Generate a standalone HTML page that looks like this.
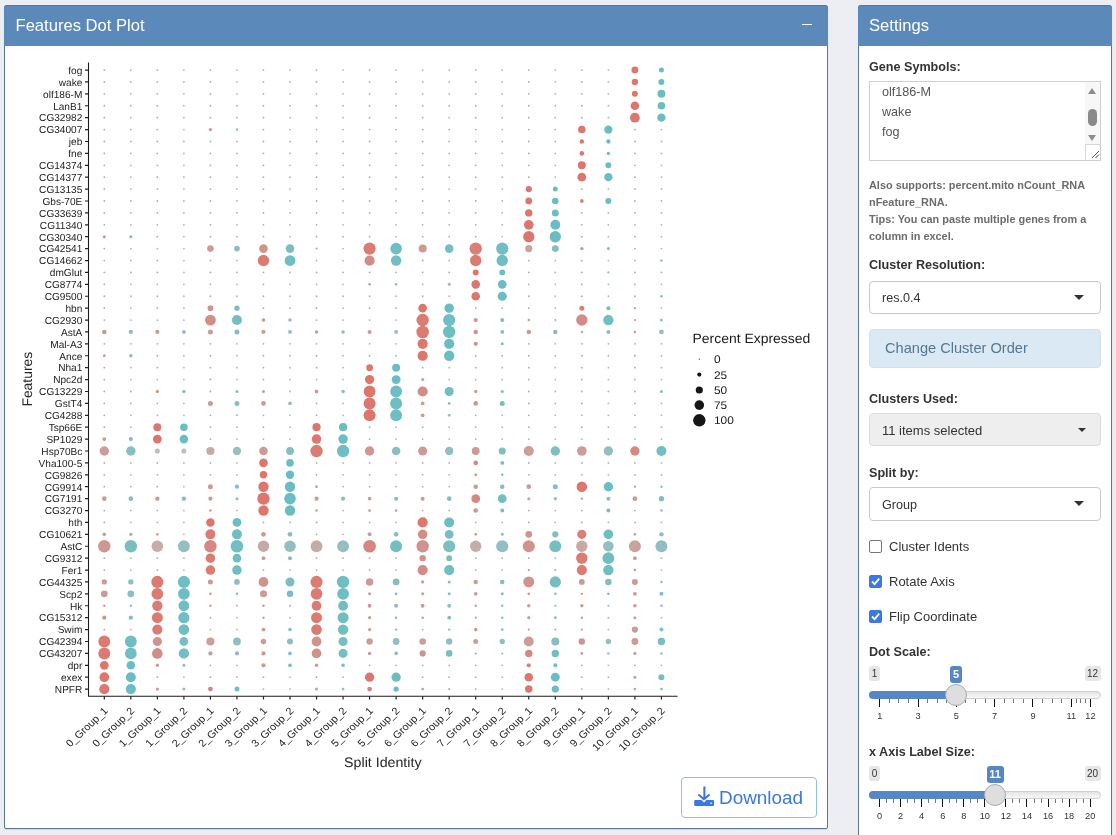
<!DOCTYPE html>
<html><head><meta charset="utf-8"><title>Features Dot Plot</title>
<style>
*{box-sizing:border-box}
html,body{margin:0;padding:0}
body{width:1116px;height:835px;overflow:hidden;background:#eceef3;position:relative;font-family:"Liberation Sans",Arial,sans-serif;color:#333}
.a{position:absolute;white-space:nowrap}
.box{position:absolute;background:#fff;border:1px solid #5a7896;border-radius:3px;box-shadow:0 1px 1px rgba(0,0,0,.1)}
.hd{position:absolute;background:#5b89ba;border-radius:3px 3px 0 0;color:#fff;border-top:1px solid #58789a}
.ttl{position:absolute;font-size:16.6px;line-height:17px;color:#fff;white-space:nowrap}
.lbl{position:absolute;left:869px;font-weight:bold;font-size:12.6px;line-height:13px;color:#333;white-space:nowrap}
.help{position:absolute;left:869px;font-weight:bold;font-size:10.9px;color:#6c6c6c;line-height:17px;white-space:nowrap}
.sel{position:absolute;left:869px;width:232px;border:1px solid #c8c8c8;border-radius:4px;background:#fff;font-size:12.6px;color:#333}
.sel .v{position:absolute;left:12px;top:50%;transform:translateY(-50%);white-space:nowrap}
.caret{position:absolute;width:0;height:0;border-style:solid;border-color:#333 transparent transparent transparent}
.btn{position:absolute;left:869px;width:232px;height:39px;background:#dbe9f4;border:1px solid #d0e2ef;border-radius:4px;color:#557790;font-size:14.6px}
.btn span{position:absolute;left:15px;top:10px;white-space:nowrap}
.cb{position:absolute;left:869px;width:13px;height:13px;border:1px solid #767676;border-radius:2px;background:#fff}
.cb.on{background:#3b78e0;border-color:#3b78e0}
.cbl{position:absolute;left:889px;font-size:13px;line-height:13px;color:#333;white-space:nowrap}
.mm{position:absolute;background:#e6e6e6;border-radius:3px;font-size:10px;padding-top:0.5px;color:#333;text-align:center}
.sg{position:absolute;background:#5587c6;border-radius:3px;font-size:11px;font-weight:bold;color:#fff;text-align:center}
.track{position:absolute;left:869px;width:232px;height:8px;border:1px solid #d0d0d0;border-radius:8px;background:linear-gradient(#e4e4e4,#f8f8f8)}
.bar{position:absolute;left:869px;height:8px;background:#5587c6;border-radius:8px 0 0 8px}
.handle{position:absolute;width:22px;height:22px;border-radius:50%;background:#dedede;border:1px solid #ababab}
.gt{position:absolute;font-size:9.2px;line-height:10px;color:#333;white-space:nowrap;text-align:center;width:20px}
.tk{position:absolute;width:1.3px;background:#111}
.dl{position:absolute;left:681px;top:777px;width:136px;height:41px;border:1px solid #8cc2dc;border-radius:4px;background:#fff;color:#3b78e0}
.dl span{position:absolute;left:37px;top:8.5px;font-size:18.9px;white-space:nowrap}
.dl svg{position:absolute;left:11px;top:7px}
#plot{position:absolute;left:0;top:0}
</style></head><body>
<div class="box" style="left:4px;top:5px;width:824px;height:824px;border-radius:3px 3px 2px 2px"></div>
<div class="hd" style="left:4px;top:5px;width:824px;height:41px"></div>
<div class="ttl" style="left:15.5px;top:17px">Features Dot Plot</div>
<div class="a" style="left:801.5px;top:23.6px;width:10.5px;height:1.7px;background:#f4f8fb"></div>
<div class="box" style="left:858px;top:5px;width:254px;height:850px"></div>
<div class="hd" style="left:858px;top:5px;width:254px;height:41px"></div>
<div class="ttl" style="left:869px;top:17px">Settings</div>

<div class="lbl" style="top:60.5px">Gene Symbols:</div>
<div class="a" style="left:869px;top:81px;width:232px;height:80px;border:1px solid #cfcfcf;background:#fff">
  <div class="a" style="left:12px;top:2.5px;font-size:12.6px;color:#555">olf186-M</div>
  <div class="a" style="left:12px;top:22.5px;font-size:12.6px;color:#555">wake</div>
  <div class="a" style="left:12px;top:42.5px;font-size:12.6px;color:#555">fog</div>
  <div class="a" style="right:0;top:0;width:15px;height:63px;background:#f7f7f7">
    <div class="a" style="left:3px;top:6px;width:0;height:0;border-left:4.5px solid transparent;border-right:4.5px solid transparent;border-bottom:6px solid #8c8c8c"></div>
    <div class="a" style="left:3px;top:27px;width:8.5px;height:17px;border-radius:4.5px;background:#8a8a8a"></div>
    <div class="a" style="left:3px;top:53px;width:0;height:0;border-left:4.5px solid transparent;border-right:4.5px solid transparent;border-top:6px solid #8c8c8c"></div>
  </div>
  <div class="a" style="right:0;bottom:0;width:15px;height:16px;border-left:1px solid #d8d8d8;border-top:1px solid #d8d8d8;background:#fff">
    <svg width="14" height="15" style="position:absolute;left:0;top:0"><path d="M6 13L13 6M9.5 13L13 9.5" stroke="#555" stroke-width="1"/></svg>
  </div>
</div>
<div class="help" style="top:177px">Also supports: percent.mito nCount_RNA<br>nFeature_RNA.<br>Tips: You can paste multiple genes from a<br>column in excel.</div>
<div class="lbl" style="top:259px">Cluster Resolution:</div>
<div class="sel" style="top:281px;height:33px"><span class="v">res.0.4</span><div class="caret" style="left:203.5px;top:12.5px;border-width:5px 5px 0 5px"></div></div>
<div class="btn" style="top:329px"><span>Change Cluster Order</span></div>
<div class="lbl" style="top:392.5px">Clusters Used:</div>
<div class="sel" style="top:413px;height:33px;background:#eeeeee;border-color:#dcdcdc"><span class="v" style="font-size:13px">11 items selected</span><div class="caret" style="left:208px;top:14px;border-width:4px 4px 0 4px"></div></div>
<div class="lbl" style="top:466.5px">Split by:</div>
<div class="sel" style="top:487px;height:34px"><span class="v" style="margin-top:1px">Group</span><div class="caret" style="left:203.5px;top:12.5px;border-width:5px 5px 0 5px"></div></div>
<div class="cb" style="top:540px"></div><div class="cbl" style="top:539.5px">Cluster Idents</div>
<div class="cb on" style="top:575px"><svg width="11" height="11" style="position:absolute;left:0;top:0"><path d="M2 5.5l2.6 2.6L9.2 2.6" fill="none" stroke="#fff" stroke-width="1.8"/></svg></div><div class="cbl" style="top:574.5px">Rotate Axis</div>
<div class="cb on" style="top:610px"><svg width="11" height="11" style="position:absolute;left:0;top:0"><path d="M2 5.5l2.6 2.6L9.2 2.6" fill="none" stroke="#fff" stroke-width="1.8"/></svg></div><div class="cbl" style="top:609.5px">Flip Coordinate</div>
<div class="lbl" style="top:645.5px">Dot Scale:</div>
<div class="mm" style="left:869px;top:666.3px;width:11px;height:14.5px;line-height:14.5px">1</div>
<div class="mm" style="left:1084.6px;top:666.3px;width:16px;height:14.5px;line-height:14.5px">12</div>
<div class="track" style="top:691.2px"></div>
<div class="bar" style="top:691.2px;width:87.3px"></div>
<div class="tk" style="left:889px;top:699.0px;height:4px;width:1px;background:#777"></div>
<div class="tk" style="left:898px;top:699.0px;height:4px;width:1px;background:#777"></div>
<div class="tk" style="left:908px;top:699.0px;height:4px;width:1px;background:#777"></div>
<div class="tk" style="left:927px;top:699.0px;height:4px;width:1px;background:#777"></div>
<div class="tk" style="left:937px;top:699.0px;height:4px;width:1px;background:#777"></div>
<div class="tk" style="left:946px;top:699.0px;height:4px;width:1px;background:#777"></div>
<div class="tk" style="left:965px;top:699.0px;height:4px;width:1px;background:#777"></div>
<div class="tk" style="left:975px;top:699.0px;height:4px;width:1px;background:#777"></div>
<div class="tk" style="left:985px;top:699.0px;height:4px;width:1px;background:#777"></div>
<div class="tk" style="left:1004px;top:699.0px;height:4px;width:1px;background:#777"></div>
<div class="tk" style="left:1013px;top:699.0px;height:4px;width:1px;background:#777"></div>
<div class="tk" style="left:1023px;top:699.0px;height:4px;width:1px;background:#777"></div>
<div class="tk" style="left:1042px;top:699.0px;height:4px;width:1px;background:#777"></div>
<div class="tk" style="left:1052px;top:699.0px;height:4px;width:1px;background:#777"></div>
<div class="tk" style="left:1061px;top:699.0px;height:4px;width:1px;background:#777"></div>
<div class="tk" style="left:1076px;top:699.0px;height:4px;width:1px;background:#777"></div>
<div class="tk" style="left:1080px;top:699.0px;height:4px;width:1px;background:#777"></div>
<div class="tk" style="left:1085px;top:699.0px;height:4px;width:1px;background:#777"></div>
<div class="tk" style="left:879px;top:699.0px;height:7.7px;width:1.4px"></div>
<div class="gt" style="left:869.70px;top:710.7px">1</div>
<div class="tk" style="left:918px;top:699.0px;height:7.7px;width:1.4px"></div>
<div class="gt" style="left:908.01px;top:710.7px">3</div>
<div class="tk" style="left:956px;top:699.0px;height:7.7px;width:1.4px"></div>
<div class="gt" style="left:946.32px;top:710.7px">5</div>
<div class="tk" style="left:994px;top:699.0px;height:7.7px;width:1.4px"></div>
<div class="gt" style="left:984.63px;top:710.7px">7</div>
<div class="tk" style="left:1032px;top:699.0px;height:7.7px;width:1.4px"></div>
<div class="gt" style="left:1022.94px;top:710.7px">9</div>
<div class="tk" style="left:1071px;top:699.0px;height:7.7px;width:1.4px"></div>
<div class="gt" style="left:1061.25px;top:710.7px">11</div>
<div class="tk" style="left:1090px;top:699.0px;height:7.7px;width:1.4px"></div>
<div class="gt" style="left:1080.40px;top:710.7px">12</div>
<div class="handle" style="left:945.3px;top:683.8px"></div>
<div class="sg" style="left:949.8px;top:666.3px;width:12.4px;height:16.3px;line-height:16.3px">5</div>
<div class="lbl" style="top:745.5px">x Axis Label Size:</div>
<div class="mm" style="left:869px;top:766.3px;width:11px;height:14.5px;line-height:14.5px">0</div>
<div class="mm" style="left:1084.6px;top:766.3px;width:16px;height:14.5px;line-height:14.5px">20</div>
<div class="track" style="top:791.2px"></div>
<div class="bar" style="top:791.2px;width:126.4px"></div>
<div class="tk" style="left:886px;top:799.0px;height:4px;width:1px;background:#777"></div>
<div class="tk" style="left:893px;top:799.0px;height:4px;width:1px;background:#777"></div>
<div class="tk" style="left:907px;top:799.0px;height:4px;width:1px;background:#777"></div>
<div class="tk" style="left:914px;top:799.0px;height:4px;width:1px;background:#777"></div>
<div class="tk" style="left:928px;top:799.0px;height:4px;width:1px;background:#777"></div>
<div class="tk" style="left:935px;top:799.0px;height:4px;width:1px;background:#777"></div>
<div class="tk" style="left:949px;top:799.0px;height:4px;width:1px;background:#777"></div>
<div class="tk" style="left:956px;top:799.0px;height:4px;width:1px;background:#777"></div>
<div class="tk" style="left:970px;top:799.0px;height:4px;width:1px;background:#777"></div>
<div class="tk" style="left:977px;top:799.0px;height:4px;width:1px;background:#777"></div>
<div class="tk" style="left:991px;top:799.0px;height:4px;width:1px;background:#777"></div>
<div class="tk" style="left:998px;top:799.0px;height:4px;width:1px;background:#777"></div>
<div class="tk" style="left:1012px;top:799.0px;height:4px;width:1px;background:#777"></div>
<div class="tk" style="left:1019px;top:799.0px;height:4px;width:1px;background:#777"></div>
<div class="tk" style="left:1034px;top:799.0px;height:4px;width:1px;background:#777"></div>
<div class="tk" style="left:1041px;top:799.0px;height:4px;width:1px;background:#777"></div>
<div class="tk" style="left:1055px;top:799.0px;height:4px;width:1px;background:#777"></div>
<div class="tk" style="left:1062px;top:799.0px;height:4px;width:1px;background:#777"></div>
<div class="tk" style="left:1076px;top:799.0px;height:4px;width:1px;background:#777"></div>
<div class="tk" style="left:1083px;top:799.0px;height:4px;width:1px;background:#777"></div>
<div class="tk" style="left:879px;top:799.0px;height:7.7px;width:1.4px"></div>
<div class="gt" style="left:869.50px;top:810.7px">0</div>
<div class="tk" style="left:900px;top:799.0px;height:7.7px;width:1.4px"></div>
<div class="gt" style="left:890.57px;top:810.7px">2</div>
<div class="tk" style="left:921px;top:799.0px;height:7.7px;width:1.4px"></div>
<div class="gt" style="left:911.64px;top:810.7px">4</div>
<div class="tk" style="left:942px;top:799.0px;height:7.7px;width:1.4px"></div>
<div class="gt" style="left:932.71px;top:810.7px">6</div>
<div class="tk" style="left:963px;top:799.0px;height:7.7px;width:1.4px"></div>
<div class="gt" style="left:953.78px;top:810.7px">8</div>
<div class="tk" style="left:984px;top:799.0px;height:7.7px;width:1.4px"></div>
<div class="gt" style="left:974.85px;top:810.7px">10</div>
<div class="tk" style="left:1005px;top:799.0px;height:7.7px;width:1.4px"></div>
<div class="gt" style="left:995.92px;top:810.7px">12</div>
<div class="tk" style="left:1026px;top:799.0px;height:7.7px;width:1.4px"></div>
<div class="gt" style="left:1016.99px;top:810.7px">14</div>
<div class="tk" style="left:1048px;top:799.0px;height:7.7px;width:1.4px"></div>
<div class="gt" style="left:1038.06px;top:810.7px">16</div>
<div class="tk" style="left:1069px;top:799.0px;height:7.7px;width:1.4px"></div>
<div class="gt" style="left:1059.13px;top:810.7px">18</div>
<div class="tk" style="left:1090px;top:799.0px;height:7.7px;width:1.4px"></div>
<div class="gt" style="left:1080.20px;top:810.7px">20</div>
<div class="handle" style="left:984.4px;top:783.8px"></div>
<div class="sg" style="left:986.6px;top:766.3px;width:17px;height:16.3px;line-height:16.3px">11</div>
<div class="dl"><svg width="22" height="22" viewBox="0 0 22 22"><path d="M11.4 2.2V13.5M6 10l4.9 4.3L16 10" fill="none" stroke="#3b78e6" stroke-width="2.1" stroke-linecap="round" stroke-linejoin="round"/><path d="M2.3 15.1H8.6L11 17.6 13.4 15.1H19.9A1.2 1.2 0 0 1 21.1 16.3V19.8A1.2 1.2 0 0 1 19.9 21H2.4A1.2 1.2 0 0 1 1.2 19.8V16.2A1.1 1.1 0 0 1 2.3 15.1Z" fill="#3b78e6"/><rect x="17.3" y="17.5" width="1.5" height="1.4" fill="#fff"/></svg><span>Download</span></div>
<svg id="plot" width="1116" height="835" viewBox="0 0 1116 835" style="text-rendering:geometricPrecision">
<g>
<circle cx="104.30" cy="70.05" r="0.9" fill="#b0aaaa"/>
<circle cx="130.83" cy="70.05" r="0.9" fill="#a6b8bb"/>
<circle cx="157.36" cy="70.05" r="0.9" fill="#b0aaaa"/>
<circle cx="183.89" cy="70.05" r="0.9" fill="#a6b8bb"/>
<circle cx="210.42" cy="70.05" r="0.9" fill="#b0aaaa"/>
<circle cx="236.95" cy="70.05" r="0.9" fill="#a6b8bb"/>
<circle cx="263.48" cy="70.05" r="0.9" fill="#b0aaaa"/>
<circle cx="290.01" cy="70.05" r="0.9" fill="#a6b8bb"/>
<circle cx="316.54" cy="70.05" r="0.9" fill="#b0aaaa"/>
<circle cx="343.07" cy="70.05" r="0.9" fill="#a6b8bb"/>
<circle cx="369.60" cy="70.05" r="0.9" fill="#b0aaaa"/>
<circle cx="396.13" cy="70.05" r="0.9" fill="#a6b8bb"/>
<circle cx="422.66" cy="70.05" r="0.9" fill="#b0aaaa"/>
<circle cx="449.19" cy="70.05" r="0.9" fill="#a6b8bb"/>
<circle cx="475.72" cy="70.05" r="0.9" fill="#b0aaaa"/>
<circle cx="502.25" cy="70.05" r="0.9" fill="#a6b8bb"/>
<circle cx="528.78" cy="70.05" r="0.9" fill="#b0aaaa"/>
<circle cx="555.31" cy="70.05" r="0.9" fill="#a6b8bb"/>
<circle cx="581.84" cy="70.05" r="0.9" fill="#b0aaaa"/>
<circle cx="608.37" cy="70.05" r="0.9" fill="#a6b8bb"/>
<circle cx="634.90" cy="70.05" r="3.45" fill="#dd776e"/>
<circle cx="661.43" cy="70.05" r="2.5" fill="#6abec3"/>
<circle cx="104.30" cy="81.95" r="0.9" fill="#b0aaaa"/>
<circle cx="130.83" cy="81.95" r="0.9" fill="#a6b8bb"/>
<circle cx="157.36" cy="81.95" r="0.9" fill="#b0aaaa"/>
<circle cx="183.89" cy="81.95" r="0.9" fill="#a6b8bb"/>
<circle cx="210.42" cy="81.95" r="0.9" fill="#b0aaaa"/>
<circle cx="236.95" cy="81.95" r="0.9" fill="#a6b8bb"/>
<circle cx="263.48" cy="81.95" r="0.9" fill="#b0aaaa"/>
<circle cx="290.01" cy="81.95" r="0.9" fill="#a6b8bb"/>
<circle cx="316.54" cy="81.95" r="0.9" fill="#b0aaaa"/>
<circle cx="343.07" cy="81.95" r="0.9" fill="#a6b8bb"/>
<circle cx="369.60" cy="81.95" r="0.9" fill="#b0aaaa"/>
<circle cx="396.13" cy="81.95" r="0.9" fill="#a6b8bb"/>
<circle cx="422.66" cy="81.95" r="0.9" fill="#b0aaaa"/>
<circle cx="449.19" cy="81.95" r="0.9" fill="#a6b8bb"/>
<circle cx="475.72" cy="81.95" r="0.9" fill="#b0aaaa"/>
<circle cx="502.25" cy="81.95" r="0.9" fill="#a6b8bb"/>
<circle cx="528.78" cy="81.95" r="0.9" fill="#b0aaaa"/>
<circle cx="555.31" cy="81.95" r="0.9" fill="#a6b8bb"/>
<circle cx="581.84" cy="81.95" r="0.9" fill="#b0aaaa"/>
<circle cx="608.37" cy="81.95" r="0.9" fill="#a6b8bb"/>
<circle cx="634.90" cy="81.95" r="3.2" fill="#dd776e"/>
<circle cx="661.43" cy="81.95" r="3.0" fill="#6abec3"/>
<circle cx="104.30" cy="93.86" r="0.9" fill="#b0aaaa"/>
<circle cx="130.83" cy="93.86" r="0.9" fill="#a6b8bb"/>
<circle cx="157.36" cy="93.86" r="0.9" fill="#b0aaaa"/>
<circle cx="183.89" cy="93.86" r="0.9" fill="#a6b8bb"/>
<circle cx="210.42" cy="93.86" r="0.9" fill="#b0aaaa"/>
<circle cx="236.95" cy="93.86" r="0.9" fill="#a6b8bb"/>
<circle cx="263.48" cy="93.86" r="0.9" fill="#b0aaaa"/>
<circle cx="290.01" cy="93.86" r="0.9" fill="#a6b8bb"/>
<circle cx="316.54" cy="93.86" r="0.9" fill="#b0aaaa"/>
<circle cx="343.07" cy="93.86" r="0.9" fill="#a6b8bb"/>
<circle cx="369.60" cy="93.86" r="0.9" fill="#b0aaaa"/>
<circle cx="396.13" cy="93.86" r="0.9" fill="#a6b8bb"/>
<circle cx="422.66" cy="93.86" r="0.9" fill="#b0aaaa"/>
<circle cx="449.19" cy="93.86" r="0.9" fill="#a6b8bb"/>
<circle cx="475.72" cy="93.86" r="0.9" fill="#b0aaaa"/>
<circle cx="502.25" cy="93.86" r="0.9" fill="#a6b8bb"/>
<circle cx="528.78" cy="93.86" r="0.9" fill="#b0aaaa"/>
<circle cx="555.31" cy="93.86" r="0.9" fill="#a6b8bb"/>
<circle cx="581.84" cy="93.86" r="0.9" fill="#b0aaaa"/>
<circle cx="608.37" cy="93.86" r="0.9" fill="#a6b8bb"/>
<circle cx="634.90" cy="93.86" r="3.0" fill="#dd776e"/>
<circle cx="661.43" cy="93.86" r="4.0" fill="#6abec3"/>
<circle cx="104.30" cy="105.76" r="0.9" fill="#b0aaaa"/>
<circle cx="130.83" cy="105.76" r="0.9" fill="#a6b8bb"/>
<circle cx="157.36" cy="105.76" r="0.9" fill="#b0aaaa"/>
<circle cx="183.89" cy="105.76" r="0.9" fill="#a6b8bb"/>
<circle cx="210.42" cy="105.76" r="0.9" fill="#b0aaaa"/>
<circle cx="236.95" cy="105.76" r="0.9" fill="#a6b8bb"/>
<circle cx="263.48" cy="105.76" r="0.9" fill="#b0aaaa"/>
<circle cx="290.01" cy="105.76" r="0.9" fill="#a6b8bb"/>
<circle cx="316.54" cy="105.76" r="0.9" fill="#b0aaaa"/>
<circle cx="343.07" cy="105.76" r="0.9" fill="#a6b8bb"/>
<circle cx="369.60" cy="105.76" r="0.9" fill="#b0aaaa"/>
<circle cx="396.13" cy="105.76" r="0.9" fill="#a6b8bb"/>
<circle cx="422.66" cy="105.76" r="0.9" fill="#b0aaaa"/>
<circle cx="449.19" cy="105.76" r="0.9" fill="#a6b8bb"/>
<circle cx="475.72" cy="105.76" r="0.9" fill="#b0aaaa"/>
<circle cx="502.25" cy="105.76" r="0.9" fill="#a6b8bb"/>
<circle cx="528.78" cy="105.76" r="0.9" fill="#b0aaaa"/>
<circle cx="555.31" cy="105.76" r="0.9" fill="#a6b8bb"/>
<circle cx="581.84" cy="105.76" r="0.9" fill="#b0aaaa"/>
<circle cx="608.37" cy="105.76" r="0.9" fill="#a6b8bb"/>
<circle cx="634.90" cy="105.76" r="4.3" fill="#dd776e"/>
<circle cx="661.43" cy="105.76" r="3.8" fill="#6abec3"/>
<circle cx="104.30" cy="117.67" r="0.9" fill="#b0aaaa"/>
<circle cx="130.83" cy="117.67" r="0.9" fill="#a6b8bb"/>
<circle cx="157.36" cy="117.67" r="0.9" fill="#b0aaaa"/>
<circle cx="183.89" cy="117.67" r="0.9" fill="#a6b8bb"/>
<circle cx="210.42" cy="117.67" r="0.9" fill="#b0aaaa"/>
<circle cx="236.95" cy="117.67" r="0.9" fill="#a6b8bb"/>
<circle cx="263.48" cy="117.67" r="0.9" fill="#b0aaaa"/>
<circle cx="290.01" cy="117.67" r="0.9" fill="#a6b8bb"/>
<circle cx="316.54" cy="117.67" r="0.9" fill="#b0aaaa"/>
<circle cx="343.07" cy="117.67" r="0.9" fill="#a6b8bb"/>
<circle cx="369.60" cy="117.67" r="0.9" fill="#b0aaaa"/>
<circle cx="396.13" cy="117.67" r="0.9" fill="#a6b8bb"/>
<circle cx="422.66" cy="117.67" r="0.9" fill="#b0aaaa"/>
<circle cx="449.19" cy="117.67" r="0.9" fill="#a6b8bb"/>
<circle cx="475.72" cy="117.67" r="0.9" fill="#b0aaaa"/>
<circle cx="502.25" cy="117.67" r="0.9" fill="#a6b8bb"/>
<circle cx="528.78" cy="117.67" r="0.9" fill="#b0aaaa"/>
<circle cx="555.31" cy="117.67" r="0.9" fill="#a6b8bb"/>
<circle cx="581.84" cy="117.67" r="0.9" fill="#b0aaaa"/>
<circle cx="608.37" cy="117.67" r="0.9" fill="#a6b8bb"/>
<circle cx="634.90" cy="117.67" r="4.9" fill="#dd776e"/>
<circle cx="661.43" cy="117.67" r="4.15" fill="#6abec3"/>
<circle cx="104.30" cy="129.57" r="0.9" fill="#b0aaaa"/>
<circle cx="130.83" cy="129.57" r="0.9" fill="#a6b8bb"/>
<circle cx="157.36" cy="129.57" r="0.9" fill="#b0aaaa"/>
<circle cx="183.89" cy="129.57" r="0.9" fill="#a6b8bb"/>
<circle cx="210.42" cy="129.57" r="1.6" fill="#d1938e"/>
<circle cx="236.95" cy="129.57" r="1.2" fill="#8cbec1"/>
<circle cx="263.48" cy="129.57" r="0.9" fill="#b0aaaa"/>
<circle cx="290.01" cy="129.57" r="0.9" fill="#a6b8bb"/>
<circle cx="316.54" cy="129.57" r="0.9" fill="#b0aaaa"/>
<circle cx="343.07" cy="129.57" r="0.9" fill="#a6b8bb"/>
<circle cx="369.60" cy="129.57" r="0.9" fill="#b0aaaa"/>
<circle cx="396.13" cy="129.57" r="0.9" fill="#a6b8bb"/>
<circle cx="422.66" cy="129.57" r="0.9" fill="#b0aaaa"/>
<circle cx="449.19" cy="129.57" r="0.9" fill="#a6b8bb"/>
<circle cx="475.72" cy="129.57" r="0.9" fill="#b0aaaa"/>
<circle cx="502.25" cy="129.57" r="0.9" fill="#a6b8bb"/>
<circle cx="528.78" cy="129.57" r="0.9" fill="#b0aaaa"/>
<circle cx="555.31" cy="129.57" r="0.9" fill="#a6b8bb"/>
<circle cx="581.84" cy="129.57" r="3.8" fill="#dd776e"/>
<circle cx="608.37" cy="129.57" r="4.15" fill="#6abec3"/>
<circle cx="634.90" cy="129.57" r="0.9" fill="#b0aaaa"/>
<circle cx="661.43" cy="129.57" r="0.9" fill="#a6b8bb"/>
<circle cx="104.30" cy="141.48" r="0.9" fill="#b0aaaa"/>
<circle cx="130.83" cy="141.48" r="0.9" fill="#a6b8bb"/>
<circle cx="157.36" cy="141.48" r="0.9" fill="#b0aaaa"/>
<circle cx="183.89" cy="141.48" r="0.9" fill="#a6b8bb"/>
<circle cx="210.42" cy="141.48" r="0.9" fill="#b0aaaa"/>
<circle cx="236.95" cy="141.48" r="0.9" fill="#a6b8bb"/>
<circle cx="263.48" cy="141.48" r="0.9" fill="#b0aaaa"/>
<circle cx="290.01" cy="141.48" r="0.9" fill="#a6b8bb"/>
<circle cx="316.54" cy="141.48" r="0.9" fill="#b0aaaa"/>
<circle cx="343.07" cy="141.48" r="0.9" fill="#a6b8bb"/>
<circle cx="369.60" cy="141.48" r="0.9" fill="#b0aaaa"/>
<circle cx="396.13" cy="141.48" r="0.9" fill="#a6b8bb"/>
<circle cx="422.66" cy="141.48" r="0.9" fill="#b0aaaa"/>
<circle cx="449.19" cy="141.48" r="0.9" fill="#a6b8bb"/>
<circle cx="475.72" cy="141.48" r="0.9" fill="#b0aaaa"/>
<circle cx="502.25" cy="141.48" r="0.9" fill="#a6b8bb"/>
<circle cx="528.78" cy="141.48" r="0.9" fill="#b0aaaa"/>
<circle cx="555.31" cy="141.48" r="0.9" fill="#a6b8bb"/>
<circle cx="581.84" cy="141.48" r="2.2" fill="#dd776e"/>
<circle cx="608.37" cy="141.48" r="2.15" fill="#6abec3"/>
<circle cx="634.90" cy="141.48" r="0.9" fill="#b0aaaa"/>
<circle cx="661.43" cy="141.48" r="0.9" fill="#a6b8bb"/>
<circle cx="104.30" cy="153.38" r="0.9" fill="#b0aaaa"/>
<circle cx="130.83" cy="153.38" r="0.9" fill="#a6b8bb"/>
<circle cx="157.36" cy="153.38" r="0.9" fill="#b0aaaa"/>
<circle cx="183.89" cy="153.38" r="0.9" fill="#a6b8bb"/>
<circle cx="210.42" cy="153.38" r="0.9" fill="#b0aaaa"/>
<circle cx="236.95" cy="153.38" r="0.9" fill="#a6b8bb"/>
<circle cx="263.48" cy="153.38" r="0.9" fill="#b0aaaa"/>
<circle cx="290.01" cy="153.38" r="0.9" fill="#a6b8bb"/>
<circle cx="316.54" cy="153.38" r="0.9" fill="#b0aaaa"/>
<circle cx="343.07" cy="153.38" r="0.9" fill="#a6b8bb"/>
<circle cx="369.60" cy="153.38" r="0.9" fill="#b0aaaa"/>
<circle cx="396.13" cy="153.38" r="0.9" fill="#a6b8bb"/>
<circle cx="422.66" cy="153.38" r="0.9" fill="#b0aaaa"/>
<circle cx="449.19" cy="153.38" r="0.9" fill="#a6b8bb"/>
<circle cx="475.72" cy="153.38" r="0.9" fill="#b0aaaa"/>
<circle cx="502.25" cy="153.38" r="0.9" fill="#a6b8bb"/>
<circle cx="528.78" cy="153.38" r="0.9" fill="#b0aaaa"/>
<circle cx="555.31" cy="153.38" r="0.9" fill="#a6b8bb"/>
<circle cx="581.84" cy="153.38" r="2.3" fill="#dd776e"/>
<circle cx="608.37" cy="153.38" r="1.65" fill="#6abec3"/>
<circle cx="634.90" cy="153.38" r="0.9" fill="#b0aaaa"/>
<circle cx="661.43" cy="153.38" r="0.9" fill="#a6b8bb"/>
<circle cx="104.30" cy="165.29" r="0.9" fill="#b0aaaa"/>
<circle cx="130.83" cy="165.29" r="0.9" fill="#a6b8bb"/>
<circle cx="157.36" cy="165.29" r="0.9" fill="#b0aaaa"/>
<circle cx="183.89" cy="165.29" r="0.9" fill="#a6b8bb"/>
<circle cx="210.42" cy="165.29" r="0.9" fill="#b0aaaa"/>
<circle cx="236.95" cy="165.29" r="0.9" fill="#a6b8bb"/>
<circle cx="263.48" cy="165.29" r="0.9" fill="#b0aaaa"/>
<circle cx="290.01" cy="165.29" r="0.9" fill="#a6b8bb"/>
<circle cx="316.54" cy="165.29" r="0.9" fill="#b0aaaa"/>
<circle cx="343.07" cy="165.29" r="0.9" fill="#a6b8bb"/>
<circle cx="369.60" cy="165.29" r="0.9" fill="#b0aaaa"/>
<circle cx="396.13" cy="165.29" r="0.9" fill="#a6b8bb"/>
<circle cx="422.66" cy="165.29" r="0.9" fill="#b0aaaa"/>
<circle cx="449.19" cy="165.29" r="0.9" fill="#a6b8bb"/>
<circle cx="475.72" cy="165.29" r="0.9" fill="#b0aaaa"/>
<circle cx="502.25" cy="165.29" r="0.9" fill="#a6b8bb"/>
<circle cx="528.78" cy="165.29" r="0.9" fill="#b0aaaa"/>
<circle cx="555.31" cy="165.29" r="0.9" fill="#a6b8bb"/>
<circle cx="581.84" cy="165.29" r="4.0" fill="#dd776e"/>
<circle cx="608.37" cy="165.29" r="3.0" fill="#6abec3"/>
<circle cx="634.90" cy="165.29" r="0.9" fill="#b0aaaa"/>
<circle cx="661.43" cy="165.29" r="0.9" fill="#a6b8bb"/>
<circle cx="104.30" cy="177.19" r="0.9" fill="#b0aaaa"/>
<circle cx="130.83" cy="177.19" r="0.9" fill="#a6b8bb"/>
<circle cx="157.36" cy="177.19" r="0.9" fill="#b0aaaa"/>
<circle cx="183.89" cy="177.19" r="0.9" fill="#a6b8bb"/>
<circle cx="210.42" cy="177.19" r="0.9" fill="#b0aaaa"/>
<circle cx="236.95" cy="177.19" r="0.9" fill="#a6b8bb"/>
<circle cx="263.48" cy="177.19" r="0.9" fill="#b0aaaa"/>
<circle cx="290.01" cy="177.19" r="0.9" fill="#a6b8bb"/>
<circle cx="316.54" cy="177.19" r="0.9" fill="#b0aaaa"/>
<circle cx="343.07" cy="177.19" r="0.9" fill="#a6b8bb"/>
<circle cx="369.60" cy="177.19" r="0.9" fill="#b0aaaa"/>
<circle cx="396.13" cy="177.19" r="0.9" fill="#a6b8bb"/>
<circle cx="422.66" cy="177.19" r="0.9" fill="#b0aaaa"/>
<circle cx="449.19" cy="177.19" r="0.9" fill="#a6b8bb"/>
<circle cx="475.72" cy="177.19" r="0.9" fill="#b0aaaa"/>
<circle cx="502.25" cy="177.19" r="0.9" fill="#a6b8bb"/>
<circle cx="528.78" cy="177.19" r="0.9" fill="#b0aaaa"/>
<circle cx="555.31" cy="177.19" r="0.9" fill="#a6b8bb"/>
<circle cx="581.84" cy="177.19" r="4.4" fill="#dd776e"/>
<circle cx="608.37" cy="177.19" r="4.15" fill="#6abec3"/>
<circle cx="634.90" cy="177.19" r="0.9" fill="#b0aaaa"/>
<circle cx="661.43" cy="177.19" r="0.9" fill="#a6b8bb"/>
<circle cx="104.30" cy="189.10" r="0.9" fill="#b0aaaa"/>
<circle cx="130.83" cy="189.10" r="0.9" fill="#a6b8bb"/>
<circle cx="157.36" cy="189.10" r="0.9" fill="#b0aaaa"/>
<circle cx="183.89" cy="189.10" r="0.9" fill="#a6b8bb"/>
<circle cx="210.42" cy="189.10" r="0.9" fill="#b0aaaa"/>
<circle cx="236.95" cy="189.10" r="0.9" fill="#a6b8bb"/>
<circle cx="263.48" cy="189.10" r="0.9" fill="#b0aaaa"/>
<circle cx="290.01" cy="189.10" r="0.9" fill="#a6b8bb"/>
<circle cx="316.54" cy="189.10" r="0.9" fill="#b0aaaa"/>
<circle cx="343.07" cy="189.10" r="0.9" fill="#a6b8bb"/>
<circle cx="369.60" cy="189.10" r="0.9" fill="#b0aaaa"/>
<circle cx="396.13" cy="189.10" r="0.9" fill="#a6b8bb"/>
<circle cx="422.66" cy="189.10" r="0.9" fill="#b0aaaa"/>
<circle cx="449.19" cy="189.10" r="0.9" fill="#a6b8bb"/>
<circle cx="475.72" cy="189.10" r="0.9" fill="#b0aaaa"/>
<circle cx="502.25" cy="189.10" r="0.9" fill="#a6b8bb"/>
<circle cx="528.78" cy="189.10" r="3.15" fill="#dd776e"/>
<circle cx="555.31" cy="189.10" r="2.5" fill="#6abec3"/>
<circle cx="581.84" cy="189.10" r="0.9" fill="#b0aaaa"/>
<circle cx="608.37" cy="189.10" r="0.9" fill="#a6b8bb"/>
<circle cx="634.90" cy="189.10" r="0.9" fill="#b0aaaa"/>
<circle cx="661.43" cy="189.10" r="0.9" fill="#a6b8bb"/>
<circle cx="104.30" cy="201.00" r="0.9" fill="#b0aaaa"/>
<circle cx="130.83" cy="201.00" r="0.9" fill="#a6b8bb"/>
<circle cx="157.36" cy="201.00" r="0.9" fill="#b0aaaa"/>
<circle cx="183.89" cy="201.00" r="0.9" fill="#a6b8bb"/>
<circle cx="210.42" cy="201.00" r="0.9" fill="#b0aaaa"/>
<circle cx="236.95" cy="201.00" r="0.9" fill="#a6b8bb"/>
<circle cx="263.48" cy="201.00" r="0.9" fill="#b0aaaa"/>
<circle cx="290.01" cy="201.00" r="0.9" fill="#a6b8bb"/>
<circle cx="316.54" cy="201.00" r="0.9" fill="#b0aaaa"/>
<circle cx="343.07" cy="201.00" r="0.9" fill="#a6b8bb"/>
<circle cx="369.60" cy="201.00" r="0.9" fill="#b0aaaa"/>
<circle cx="396.13" cy="201.00" r="0.9" fill="#a6b8bb"/>
<circle cx="422.66" cy="201.00" r="0.9" fill="#b0aaaa"/>
<circle cx="449.19" cy="201.00" r="0.9" fill="#a6b8bb"/>
<circle cx="475.72" cy="201.00" r="0.9" fill="#b0aaaa"/>
<circle cx="502.25" cy="201.00" r="0.9" fill="#a6b8bb"/>
<circle cx="528.78" cy="201.00" r="3.4" fill="#dd776e"/>
<circle cx="555.31" cy="201.00" r="3.3" fill="#6abec3"/>
<circle cx="581.84" cy="201.00" r="1.9" fill="#d7857e"/>
<circle cx="608.37" cy="201.00" r="3.0" fill="#6abec3"/>
<circle cx="634.90" cy="201.00" r="0.9" fill="#b0aaaa"/>
<circle cx="661.43" cy="201.00" r="0.9" fill="#a6b8bb"/>
<circle cx="104.30" cy="212.91" r="0.9" fill="#b0aaaa"/>
<circle cx="130.83" cy="212.91" r="0.9" fill="#a6b8bb"/>
<circle cx="157.36" cy="212.91" r="0.9" fill="#b0aaaa"/>
<circle cx="183.89" cy="212.91" r="0.9" fill="#a6b8bb"/>
<circle cx="210.42" cy="212.91" r="0.9" fill="#b0aaaa"/>
<circle cx="236.95" cy="212.91" r="0.9" fill="#a6b8bb"/>
<circle cx="263.48" cy="212.91" r="0.9" fill="#b0aaaa"/>
<circle cx="290.01" cy="212.91" r="0.9" fill="#a6b8bb"/>
<circle cx="316.54" cy="212.91" r="0.9" fill="#b0aaaa"/>
<circle cx="343.07" cy="212.91" r="0.9" fill="#a6b8bb"/>
<circle cx="369.60" cy="212.91" r="0.9" fill="#b0aaaa"/>
<circle cx="396.13" cy="212.91" r="0.9" fill="#a6b8bb"/>
<circle cx="422.66" cy="212.91" r="0.9" fill="#b0aaaa"/>
<circle cx="449.19" cy="212.91" r="0.9" fill="#a6b8bb"/>
<circle cx="475.72" cy="212.91" r="0.9" fill="#b0aaaa"/>
<circle cx="502.25" cy="212.91" r="0.9" fill="#a6b8bb"/>
<circle cx="528.78" cy="212.91" r="3.7" fill="#dd776e"/>
<circle cx="555.31" cy="212.91" r="3.5" fill="#6abec3"/>
<circle cx="581.84" cy="212.91" r="0.9" fill="#b0aaaa"/>
<circle cx="608.37" cy="212.91" r="0.9" fill="#a6b8bb"/>
<circle cx="634.90" cy="212.91" r="0.9" fill="#b0aaaa"/>
<circle cx="661.43" cy="212.91" r="0.9" fill="#a6b8bb"/>
<circle cx="104.30" cy="224.81" r="0.9" fill="#b0aaaa"/>
<circle cx="130.83" cy="224.81" r="0.9" fill="#a6b8bb"/>
<circle cx="157.36" cy="224.81" r="0.9" fill="#b0aaaa"/>
<circle cx="183.89" cy="224.81" r="0.9" fill="#a6b8bb"/>
<circle cx="210.42" cy="224.81" r="0.9" fill="#b0aaaa"/>
<circle cx="236.95" cy="224.81" r="0.9" fill="#a6b8bb"/>
<circle cx="263.48" cy="224.81" r="0.9" fill="#b0aaaa"/>
<circle cx="290.01" cy="224.81" r="0.9" fill="#a6b8bb"/>
<circle cx="316.54" cy="224.81" r="0.9" fill="#b0aaaa"/>
<circle cx="343.07" cy="224.81" r="0.9" fill="#a6b8bb"/>
<circle cx="369.60" cy="224.81" r="0.9" fill="#b0aaaa"/>
<circle cx="396.13" cy="224.81" r="0.9" fill="#a6b8bb"/>
<circle cx="422.66" cy="224.81" r="0.9" fill="#b0aaaa"/>
<circle cx="449.19" cy="224.81" r="0.9" fill="#a6b8bb"/>
<circle cx="475.72" cy="224.81" r="0.9" fill="#b0aaaa"/>
<circle cx="502.25" cy="224.81" r="0.9" fill="#a6b8bb"/>
<circle cx="528.78" cy="224.81" r="4.85" fill="#dd776e"/>
<circle cx="555.31" cy="224.81" r="4.95" fill="#6abec3"/>
<circle cx="581.84" cy="224.81" r="0.9" fill="#b0aaaa"/>
<circle cx="608.37" cy="224.81" r="0.9" fill="#a6b8bb"/>
<circle cx="634.90" cy="224.81" r="0.9" fill="#b0aaaa"/>
<circle cx="661.43" cy="224.81" r="0.9" fill="#a6b8bb"/>
<circle cx="104.30" cy="236.72" r="1.5" fill="#d1938e"/>
<circle cx="130.83" cy="236.72" r="1.5" fill="#7bbec2"/>
<circle cx="157.36" cy="236.72" r="0.9" fill="#b0aaaa"/>
<circle cx="183.89" cy="236.72" r="0.9" fill="#a6b8bb"/>
<circle cx="210.42" cy="236.72" r="0.9" fill="#b0aaaa"/>
<circle cx="236.95" cy="236.72" r="0.9" fill="#a6b8bb"/>
<circle cx="263.48" cy="236.72" r="0.9" fill="#b0aaaa"/>
<circle cx="290.01" cy="236.72" r="0.9" fill="#a6b8bb"/>
<circle cx="316.54" cy="236.72" r="0.9" fill="#b0aaaa"/>
<circle cx="343.07" cy="236.72" r="0.9" fill="#a6b8bb"/>
<circle cx="369.60" cy="236.72" r="0.9" fill="#b0aaaa"/>
<circle cx="396.13" cy="236.72" r="0.9" fill="#a6b8bb"/>
<circle cx="422.66" cy="236.72" r="0.9" fill="#b0aaaa"/>
<circle cx="449.19" cy="236.72" r="0.9" fill="#a6b8bb"/>
<circle cx="475.72" cy="236.72" r="0.9" fill="#b0aaaa"/>
<circle cx="502.25" cy="236.72" r="0.9" fill="#a6b8bb"/>
<circle cx="528.78" cy="236.72" r="5.65" fill="#dd776e"/>
<circle cx="555.31" cy="236.72" r="5.7" fill="#6abec3"/>
<circle cx="581.84" cy="236.72" r="0.9" fill="#b0aaaa"/>
<circle cx="608.37" cy="236.72" r="0.9" fill="#a6b8bb"/>
<circle cx="634.90" cy="236.72" r="0.9" fill="#b0aaaa"/>
<circle cx="661.43" cy="236.72" r="0.9" fill="#a6b8bb"/>
<circle cx="104.30" cy="248.62" r="0.9" fill="#b0aaaa"/>
<circle cx="130.83" cy="248.62" r="0.9" fill="#a6b8bb"/>
<circle cx="157.36" cy="248.62" r="0.9" fill="#b0aaaa"/>
<circle cx="183.89" cy="248.62" r="0.9" fill="#a6b8bb"/>
<circle cx="210.42" cy="248.62" r="3.3" fill="#ce9a96"/>
<circle cx="236.95" cy="248.62" r="2.85" fill="#8cbec1"/>
<circle cx="263.48" cy="248.62" r="4.3" fill="#d1938e"/>
<circle cx="290.01" cy="248.62" r="4.3" fill="#7bbec2"/>
<circle cx="316.54" cy="248.62" r="1.0" fill="#ce9a96"/>
<circle cx="343.07" cy="248.62" r="0.9" fill="#a6b8bb"/>
<circle cx="369.60" cy="248.62" r="6.1" fill="#db7b72"/>
<circle cx="396.13" cy="248.62" r="5.8" fill="#6ebec3"/>
<circle cx="422.66" cy="248.62" r="4.0" fill="#ce9a96"/>
<circle cx="449.19" cy="248.62" r="4.3" fill="#77bec2"/>
<circle cx="475.72" cy="248.62" r="6.2" fill="#da7e76"/>
<circle cx="502.25" cy="248.62" r="6.1" fill="#72bec2"/>
<circle cx="528.78" cy="248.62" r="3.6" fill="#caa29e"/>
<circle cx="555.31" cy="248.62" r="3.45" fill="#87bec1"/>
<circle cx="581.84" cy="248.62" r="1.7" fill="#d1938e"/>
<circle cx="608.37" cy="248.62" r="1.6" fill="#8cbec1"/>
<circle cx="634.90" cy="248.62" r="0.9" fill="#b0aaaa"/>
<circle cx="661.43" cy="248.62" r="0.9" fill="#a6b8bb"/>
<circle cx="104.30" cy="260.53" r="0.9" fill="#b0aaaa"/>
<circle cx="130.83" cy="260.53" r="0.9" fill="#a6b8bb"/>
<circle cx="157.36" cy="260.53" r="0.9" fill="#b0aaaa"/>
<circle cx="183.89" cy="260.53" r="0.9" fill="#a6b8bb"/>
<circle cx="210.42" cy="260.53" r="0.9" fill="#b0aaaa"/>
<circle cx="236.95" cy="260.53" r="0.9" fill="#a6b8bb"/>
<circle cx="263.48" cy="260.53" r="5.7" fill="#db7b72"/>
<circle cx="290.01" cy="260.53" r="5.4" fill="#6ebec3"/>
<circle cx="316.54" cy="260.53" r="0.9" fill="#b0aaaa"/>
<circle cx="343.07" cy="260.53" r="0.9" fill="#a6b8bb"/>
<circle cx="369.60" cy="260.53" r="5.1" fill="#d48c86"/>
<circle cx="396.13" cy="260.53" r="5.2" fill="#72bec2"/>
<circle cx="422.66" cy="260.53" r="1.0" fill="#ce9a96"/>
<circle cx="449.19" cy="260.53" r="0.9" fill="#a6b8bb"/>
<circle cx="475.72" cy="260.53" r="5.7" fill="#db7b72"/>
<circle cx="502.25" cy="260.53" r="5.7" fill="#6ebec3"/>
<circle cx="528.78" cy="260.53" r="0.9" fill="#b0aaaa"/>
<circle cx="555.31" cy="260.53" r="0.9" fill="#a6b8bb"/>
<circle cx="581.84" cy="260.53" r="0.9" fill="#b0aaaa"/>
<circle cx="608.37" cy="260.53" r="0.9" fill="#a6b8bb"/>
<circle cx="634.90" cy="260.53" r="0.9" fill="#b0aaaa"/>
<circle cx="661.43" cy="260.53" r="1.3" fill="#8cbec1"/>
<circle cx="104.30" cy="272.44" r="0.9" fill="#b0aaaa"/>
<circle cx="130.83" cy="272.44" r="0.9" fill="#a6b8bb"/>
<circle cx="157.36" cy="272.44" r="0.9" fill="#b0aaaa"/>
<circle cx="183.89" cy="272.44" r="0.9" fill="#a6b8bb"/>
<circle cx="210.42" cy="272.44" r="0.9" fill="#b0aaaa"/>
<circle cx="236.95" cy="272.44" r="0.9" fill="#a6b8bb"/>
<circle cx="263.48" cy="272.44" r="0.9" fill="#b0aaaa"/>
<circle cx="290.01" cy="272.44" r="0.9" fill="#a6b8bb"/>
<circle cx="316.54" cy="272.44" r="0.9" fill="#b0aaaa"/>
<circle cx="343.07" cy="272.44" r="0.9" fill="#a6b8bb"/>
<circle cx="369.60" cy="272.44" r="0.9" fill="#b0aaaa"/>
<circle cx="396.13" cy="272.44" r="0.9" fill="#a6b8bb"/>
<circle cx="422.66" cy="272.44" r="0.9" fill="#b0aaaa"/>
<circle cx="449.19" cy="272.44" r="0.9" fill="#a6b8bb"/>
<circle cx="475.72" cy="272.44" r="3.0" fill="#dd776e"/>
<circle cx="502.25" cy="272.44" r="2.85" fill="#6abec3"/>
<circle cx="528.78" cy="272.44" r="0.9" fill="#b0aaaa"/>
<circle cx="555.31" cy="272.44" r="0.9" fill="#a6b8bb"/>
<circle cx="581.84" cy="272.44" r="0.9" fill="#b0aaaa"/>
<circle cx="608.37" cy="272.44" r="1.1" fill="#8cbec1"/>
<circle cx="634.90" cy="272.44" r="0.9" fill="#b0aaaa"/>
<circle cx="661.43" cy="272.44" r="0.9" fill="#a6b8bb"/>
<circle cx="104.30" cy="284.34" r="0.9" fill="#b0aaaa"/>
<circle cx="130.83" cy="284.34" r="0.9" fill="#a6b8bb"/>
<circle cx="157.36" cy="284.34" r="0.9" fill="#b0aaaa"/>
<circle cx="183.89" cy="284.34" r="0.9" fill="#a6b8bb"/>
<circle cx="210.42" cy="284.34" r="0.9" fill="#b0aaaa"/>
<circle cx="236.95" cy="284.34" r="0.9" fill="#a6b8bb"/>
<circle cx="263.48" cy="284.34" r="0.9" fill="#b0aaaa"/>
<circle cx="290.01" cy="284.34" r="0.9" fill="#a6b8bb"/>
<circle cx="316.54" cy="284.34" r="0.9" fill="#b0aaaa"/>
<circle cx="343.07" cy="284.34" r="0.9" fill="#a6b8bb"/>
<circle cx="369.60" cy="284.34" r="1.3" fill="#ce9a96"/>
<circle cx="396.13" cy="284.34" r="1.3" fill="#8cbec1"/>
<circle cx="422.66" cy="284.34" r="0.9" fill="#b0aaaa"/>
<circle cx="449.19" cy="284.34" r="1.5" fill="#8cbec1"/>
<circle cx="475.72" cy="284.34" r="4.3" fill="#dd776e"/>
<circle cx="502.25" cy="284.34" r="4.3" fill="#6abec3"/>
<circle cx="528.78" cy="284.34" r="0.9" fill="#b0aaaa"/>
<circle cx="555.31" cy="284.34" r="0.9" fill="#a6b8bb"/>
<circle cx="581.84" cy="284.34" r="0.9" fill="#b0aaaa"/>
<circle cx="608.37" cy="284.34" r="0.9" fill="#a6b8bb"/>
<circle cx="634.90" cy="284.34" r="0.9" fill="#b0aaaa"/>
<circle cx="661.43" cy="284.34" r="0.9" fill="#a6b8bb"/>
<circle cx="104.30" cy="296.25" r="0.9" fill="#b0aaaa"/>
<circle cx="130.83" cy="296.25" r="0.9" fill="#a6b8bb"/>
<circle cx="157.36" cy="296.25" r="0.9" fill="#b0aaaa"/>
<circle cx="183.89" cy="296.25" r="0.9" fill="#a6b8bb"/>
<circle cx="210.42" cy="296.25" r="0.9" fill="#b0aaaa"/>
<circle cx="236.95" cy="296.25" r="0.9" fill="#a6b8bb"/>
<circle cx="263.48" cy="296.25" r="0.9" fill="#b0aaaa"/>
<circle cx="290.01" cy="296.25" r="0.9" fill="#a6b8bb"/>
<circle cx="316.54" cy="296.25" r="0.9" fill="#b0aaaa"/>
<circle cx="343.07" cy="296.25" r="0.9" fill="#a6b8bb"/>
<circle cx="369.60" cy="296.25" r="0.9" fill="#b0aaaa"/>
<circle cx="396.13" cy="296.25" r="0.9" fill="#a6b8bb"/>
<circle cx="422.66" cy="296.25" r="0.9" fill="#b0aaaa"/>
<circle cx="449.19" cy="296.25" r="0.9" fill="#a6b8bb"/>
<circle cx="475.72" cy="296.25" r="4.3" fill="#dd776e"/>
<circle cx="502.25" cy="296.25" r="4.55" fill="#6abec3"/>
<circle cx="528.78" cy="296.25" r="0.9" fill="#b0aaaa"/>
<circle cx="555.31" cy="296.25" r="0.9" fill="#a6b8bb"/>
<circle cx="581.84" cy="296.25" r="0.9" fill="#b0aaaa"/>
<circle cx="608.37" cy="296.25" r="0.9" fill="#a6b8bb"/>
<circle cx="634.90" cy="296.25" r="0.9" fill="#b0aaaa"/>
<circle cx="661.43" cy="296.25" r="1.3" fill="#8cbec1"/>
<circle cx="104.30" cy="308.15" r="0.9" fill="#b0aaaa"/>
<circle cx="130.83" cy="308.15" r="0.9" fill="#a6b8bb"/>
<circle cx="157.36" cy="308.15" r="0.9" fill="#b0aaaa"/>
<circle cx="183.89" cy="308.15" r="0.9" fill="#a6b8bb"/>
<circle cx="210.42" cy="308.15" r="2.85" fill="#d1938e"/>
<circle cx="236.95" cy="308.15" r="2.65" fill="#7bbec2"/>
<circle cx="263.48" cy="308.15" r="0.9" fill="#b0aaaa"/>
<circle cx="290.01" cy="308.15" r="0.9" fill="#a6b8bb"/>
<circle cx="316.54" cy="308.15" r="0.9" fill="#b0aaaa"/>
<circle cx="343.07" cy="308.15" r="0.9" fill="#a6b8bb"/>
<circle cx="369.60" cy="308.15" r="0.9" fill="#b0aaaa"/>
<circle cx="396.13" cy="308.15" r="0.9" fill="#a6b8bb"/>
<circle cx="422.66" cy="308.15" r="4.3" fill="#dd776e"/>
<circle cx="449.19" cy="308.15" r="4.75" fill="#6abec3"/>
<circle cx="475.72" cy="308.15" r="0.9" fill="#b0aaaa"/>
<circle cx="502.25" cy="308.15" r="0.9" fill="#a6b8bb"/>
<circle cx="528.78" cy="308.15" r="0.9" fill="#b0aaaa"/>
<circle cx="555.31" cy="308.15" r="0.9" fill="#a6b8bb"/>
<circle cx="581.84" cy="308.15" r="2.5" fill="#da7e76"/>
<circle cx="608.37" cy="308.15" r="2.0" fill="#72bec2"/>
<circle cx="634.90" cy="308.15" r="1.1" fill="#ce9a96"/>
<circle cx="661.43" cy="308.15" r="0.9" fill="#a6b8bb"/>
<circle cx="104.30" cy="320.06" r="0.9" fill="#b0aaaa"/>
<circle cx="130.83" cy="320.06" r="0.9" fill="#a6b8bb"/>
<circle cx="157.36" cy="320.06" r="0.9" fill="#b0aaaa"/>
<circle cx="183.89" cy="320.06" r="0.9" fill="#a6b8bb"/>
<circle cx="210.42" cy="320.06" r="5.4" fill="#d48c86"/>
<circle cx="236.95" cy="320.06" r="5.0" fill="#77bec2"/>
<circle cx="263.48" cy="320.06" r="1.8" fill="#d1938e"/>
<circle cx="290.01" cy="320.06" r="1.8" fill="#8cbec1"/>
<circle cx="316.54" cy="320.06" r="0.9" fill="#b0aaaa"/>
<circle cx="343.07" cy="320.06" r="0.9" fill="#a6b8bb"/>
<circle cx="369.60" cy="320.06" r="0.9" fill="#b0aaaa"/>
<circle cx="396.13" cy="320.06" r="0.9" fill="#a6b8bb"/>
<circle cx="422.66" cy="320.06" r="6.2" fill="#db7b72"/>
<circle cx="449.19" cy="320.06" r="6.1" fill="#6ebec3"/>
<circle cx="475.72" cy="320.06" r="2.1" fill="#d1938e"/>
<circle cx="502.25" cy="320.06" r="2.1" fill="#8cbec1"/>
<circle cx="528.78" cy="320.06" r="1.3" fill="#ce9a96"/>
<circle cx="555.31" cy="320.06" r="1.1" fill="#8cbec1"/>
<circle cx="581.84" cy="320.06" r="5.7" fill="#d48c86"/>
<circle cx="608.37" cy="320.06" r="5.2" fill="#72bec2"/>
<circle cx="634.90" cy="320.06" r="1.1" fill="#ce9a96"/>
<circle cx="661.43" cy="320.06" r="1.4" fill="#8cbec1"/>
<circle cx="104.30" cy="331.96" r="2.3" fill="#ce9a96"/>
<circle cx="130.83" cy="331.96" r="2.1" fill="#8cbec1"/>
<circle cx="157.36" cy="331.96" r="2.1" fill="#ce9a96"/>
<circle cx="183.89" cy="331.96" r="1.9" fill="#8cbec1"/>
<circle cx="210.42" cy="331.96" r="2.5" fill="#ce9a96"/>
<circle cx="236.95" cy="331.96" r="2.5" fill="#83bec2"/>
<circle cx="263.48" cy="331.96" r="2.1" fill="#ce9a96"/>
<circle cx="290.01" cy="331.96" r="1.9" fill="#83bec2"/>
<circle cx="316.54" cy="331.96" r="1.8" fill="#ce9a96"/>
<circle cx="343.07" cy="331.96" r="1.8" fill="#8cbec1"/>
<circle cx="369.60" cy="331.96" r="2.0" fill="#ce9a96"/>
<circle cx="396.13" cy="331.96" r="1.9" fill="#8cbec1"/>
<circle cx="422.66" cy="331.96" r="6.3" fill="#db7b72"/>
<circle cx="449.19" cy="331.96" r="6.2" fill="#6ebec3"/>
<circle cx="475.72" cy="331.96" r="2.3" fill="#d1938e"/>
<circle cx="502.25" cy="331.96" r="1.9" fill="#83bec2"/>
<circle cx="528.78" cy="331.96" r="2.3" fill="#ce9a96"/>
<circle cx="555.31" cy="331.96" r="2.2" fill="#83bec2"/>
<circle cx="581.84" cy="331.96" r="1.2" fill="#ce9a96"/>
<circle cx="608.37" cy="331.96" r="2.0" fill="#8cbec1"/>
<circle cx="634.90" cy="331.96" r="1.3" fill="#ce9a96"/>
<circle cx="661.43" cy="331.96" r="2.35" fill="#94bec0"/>
<circle cx="104.30" cy="343.87" r="0.9" fill="#b0aaaa"/>
<circle cx="130.83" cy="343.87" r="0.9" fill="#a6b8bb"/>
<circle cx="157.36" cy="343.87" r="0.9" fill="#b0aaaa"/>
<circle cx="183.89" cy="343.87" r="0.9" fill="#a6b8bb"/>
<circle cx="210.42" cy="343.87" r="0.9" fill="#b0aaaa"/>
<circle cx="236.95" cy="343.87" r="0.9" fill="#a6b8bb"/>
<circle cx="263.48" cy="343.87" r="0.9" fill="#b0aaaa"/>
<circle cx="290.01" cy="343.87" r="0.9" fill="#a6b8bb"/>
<circle cx="316.54" cy="343.87" r="0.9" fill="#b0aaaa"/>
<circle cx="343.07" cy="343.87" r="0.9" fill="#a6b8bb"/>
<circle cx="369.60" cy="343.87" r="0.9" fill="#b0aaaa"/>
<circle cx="396.13" cy="343.87" r="0.9" fill="#a6b8bb"/>
<circle cx="422.66" cy="343.87" r="5.1" fill="#dd776e"/>
<circle cx="449.19" cy="343.87" r="5.1" fill="#6abec3"/>
<circle cx="475.72" cy="343.87" r="2.1" fill="#d1938e"/>
<circle cx="502.25" cy="343.87" r="1.5" fill="#83bec2"/>
<circle cx="528.78" cy="343.87" r="0.9" fill="#b0aaaa"/>
<circle cx="555.31" cy="343.87" r="0.9" fill="#a6b8bb"/>
<circle cx="581.84" cy="343.87" r="0.9" fill="#b0aaaa"/>
<circle cx="608.37" cy="343.87" r="0.9" fill="#a6b8bb"/>
<circle cx="634.90" cy="343.87" r="0.9" fill="#b0aaaa"/>
<circle cx="661.43" cy="343.87" r="0.9" fill="#a6b8bb"/>
<circle cx="104.30" cy="355.77" r="1.4" fill="#ce9a96"/>
<circle cx="130.83" cy="355.77" r="1.7" fill="#83bec2"/>
<circle cx="157.36" cy="355.77" r="0.9" fill="#b0aaaa"/>
<circle cx="183.89" cy="355.77" r="0.9" fill="#a6b8bb"/>
<circle cx="210.42" cy="355.77" r="0.9" fill="#b0aaaa"/>
<circle cx="236.95" cy="355.77" r="0.9" fill="#a6b8bb"/>
<circle cx="263.48" cy="355.77" r="0.9" fill="#b0aaaa"/>
<circle cx="290.01" cy="355.77" r="0.9" fill="#a6b8bb"/>
<circle cx="316.54" cy="355.77" r="0.9" fill="#b0aaaa"/>
<circle cx="343.07" cy="355.77" r="0.9" fill="#a6b8bb"/>
<circle cx="369.60" cy="355.77" r="0.9" fill="#b0aaaa"/>
<circle cx="396.13" cy="355.77" r="0.9" fill="#a6b8bb"/>
<circle cx="422.66" cy="355.77" r="5.1" fill="#dd776e"/>
<circle cx="449.19" cy="355.77" r="5.2" fill="#6abec3"/>
<circle cx="475.72" cy="355.77" r="0.9" fill="#b0aaaa"/>
<circle cx="502.25" cy="355.77" r="0.9" fill="#a6b8bb"/>
<circle cx="528.78" cy="355.77" r="0.9" fill="#b0aaaa"/>
<circle cx="555.31" cy="355.77" r="0.9" fill="#a6b8bb"/>
<circle cx="581.84" cy="355.77" r="0.9" fill="#b0aaaa"/>
<circle cx="608.37" cy="355.77" r="0.9" fill="#a6b8bb"/>
<circle cx="634.90" cy="355.77" r="1.0" fill="#ce9a96"/>
<circle cx="661.43" cy="355.77" r="0.9" fill="#a6b8bb"/>
<circle cx="104.30" cy="367.68" r="0.9" fill="#b0aaaa"/>
<circle cx="130.83" cy="367.68" r="0.9" fill="#a6b8bb"/>
<circle cx="157.36" cy="367.68" r="0.9" fill="#b0aaaa"/>
<circle cx="183.89" cy="367.68" r="0.9" fill="#a6b8bb"/>
<circle cx="210.42" cy="367.68" r="0.9" fill="#b0aaaa"/>
<circle cx="236.95" cy="367.68" r="0.9" fill="#a6b8bb"/>
<circle cx="263.48" cy="367.68" r="0.9" fill="#b0aaaa"/>
<circle cx="290.01" cy="367.68" r="0.9" fill="#a6b8bb"/>
<circle cx="316.54" cy="367.68" r="0.9" fill="#b0aaaa"/>
<circle cx="343.07" cy="367.68" r="0.9" fill="#a6b8bb"/>
<circle cx="369.60" cy="367.68" r="3.4" fill="#dd776e"/>
<circle cx="396.13" cy="367.68" r="4.0" fill="#6abec3"/>
<circle cx="422.66" cy="367.68" r="0.9" fill="#b0aaaa"/>
<circle cx="449.19" cy="367.68" r="0.9" fill="#a6b8bb"/>
<circle cx="475.72" cy="367.68" r="0.9" fill="#b0aaaa"/>
<circle cx="502.25" cy="367.68" r="0.9" fill="#a6b8bb"/>
<circle cx="528.78" cy="367.68" r="0.9" fill="#b0aaaa"/>
<circle cx="555.31" cy="367.68" r="0.9" fill="#a6b8bb"/>
<circle cx="581.84" cy="367.68" r="0.9" fill="#b0aaaa"/>
<circle cx="608.37" cy="367.68" r="0.9" fill="#a6b8bb"/>
<circle cx="634.90" cy="367.68" r="0.9" fill="#b0aaaa"/>
<circle cx="661.43" cy="367.68" r="0.9" fill="#a6b8bb"/>
<circle cx="104.30" cy="379.58" r="0.9" fill="#b0aaaa"/>
<circle cx="130.83" cy="379.58" r="0.9" fill="#a6b8bb"/>
<circle cx="157.36" cy="379.58" r="0.9" fill="#b0aaaa"/>
<circle cx="183.89" cy="379.58" r="0.9" fill="#a6b8bb"/>
<circle cx="210.42" cy="379.58" r="1.0" fill="#ce9a96"/>
<circle cx="236.95" cy="379.58" r="0.9" fill="#a6b8bb"/>
<circle cx="263.48" cy="379.58" r="0.9" fill="#b0aaaa"/>
<circle cx="290.01" cy="379.58" r="0.9" fill="#a6b8bb"/>
<circle cx="316.54" cy="379.58" r="0.9" fill="#b0aaaa"/>
<circle cx="343.07" cy="379.58" r="0.9" fill="#a6b8bb"/>
<circle cx="369.60" cy="379.58" r="4.65" fill="#dd776e"/>
<circle cx="396.13" cy="379.58" r="4.45" fill="#6abec3"/>
<circle cx="422.66" cy="379.58" r="1.5" fill="#ce9a96"/>
<circle cx="449.19" cy="379.58" r="0.9" fill="#a6b8bb"/>
<circle cx="475.72" cy="379.58" r="0.9" fill="#b0aaaa"/>
<circle cx="502.25" cy="379.58" r="0.9" fill="#a6b8bb"/>
<circle cx="528.78" cy="379.58" r="0.9" fill="#b0aaaa"/>
<circle cx="555.31" cy="379.58" r="0.9" fill="#a6b8bb"/>
<circle cx="581.84" cy="379.58" r="0.9" fill="#b0aaaa"/>
<circle cx="608.37" cy="379.58" r="0.9" fill="#a6b8bb"/>
<circle cx="634.90" cy="379.58" r="0.9" fill="#b0aaaa"/>
<circle cx="661.43" cy="379.58" r="0.9" fill="#a6b8bb"/>
<circle cx="104.30" cy="391.49" r="0.9" fill="#b0aaaa"/>
<circle cx="130.83" cy="391.49" r="0.9" fill="#a6b8bb"/>
<circle cx="157.36" cy="391.49" r="1.7" fill="#ce9a96"/>
<circle cx="183.89" cy="391.49" r="1.7" fill="#8cbec1"/>
<circle cx="210.42" cy="391.49" r="0.9" fill="#b0aaaa"/>
<circle cx="236.95" cy="391.49" r="1.5" fill="#8cbec1"/>
<circle cx="263.48" cy="391.49" r="1.5" fill="#ce9a96"/>
<circle cx="290.01" cy="391.49" r="0.9" fill="#a6b8bb"/>
<circle cx="316.54" cy="391.49" r="1.9" fill="#ce9a96"/>
<circle cx="343.07" cy="391.49" r="1.8" fill="#8cbec1"/>
<circle cx="369.60" cy="391.49" r="5.9" fill="#dd776e"/>
<circle cx="396.13" cy="391.49" r="5.9" fill="#6ebec3"/>
<circle cx="422.66" cy="391.49" r="5.1" fill="#d48c86"/>
<circle cx="449.19" cy="391.49" r="4.55" fill="#72bec2"/>
<circle cx="475.72" cy="391.49" r="1.7" fill="#ce9a96"/>
<circle cx="502.25" cy="391.49" r="1.6" fill="#83bec2"/>
<circle cx="528.78" cy="391.49" r="0.9" fill="#b0aaaa"/>
<circle cx="555.31" cy="391.49" r="0.9" fill="#a6b8bb"/>
<circle cx="581.84" cy="391.49" r="0.9" fill="#b0aaaa"/>
<circle cx="608.37" cy="391.49" r="0.9" fill="#a6b8bb"/>
<circle cx="634.90" cy="391.49" r="0.9" fill="#b0aaaa"/>
<circle cx="661.43" cy="391.49" r="1.5" fill="#8cbec1"/>
<circle cx="104.30" cy="403.39" r="0.9" fill="#b0aaaa"/>
<circle cx="130.83" cy="403.39" r="0.9" fill="#a6b8bb"/>
<circle cx="157.36" cy="403.39" r="0.9" fill="#b0aaaa"/>
<circle cx="183.89" cy="403.39" r="0.9" fill="#a6b8bb"/>
<circle cx="210.42" cy="403.39" r="2.5" fill="#ce9a96"/>
<circle cx="236.95" cy="403.39" r="2.5" fill="#83bec2"/>
<circle cx="263.48" cy="403.39" r="2.4" fill="#ce9a96"/>
<circle cx="290.01" cy="403.39" r="1.8" fill="#83bec2"/>
<circle cx="316.54" cy="403.39" r="0.9" fill="#b0aaaa"/>
<circle cx="343.07" cy="403.39" r="0.9" fill="#a6b8bb"/>
<circle cx="369.60" cy="403.39" r="6.0" fill="#dd776e"/>
<circle cx="396.13" cy="403.39" r="6.0" fill="#6ebec3"/>
<circle cx="422.66" cy="403.39" r="1.9" fill="#ce9a96"/>
<circle cx="449.19" cy="403.39" r="1.4" fill="#8cbec1"/>
<circle cx="475.72" cy="403.39" r="2.3" fill="#d1938e"/>
<circle cx="502.25" cy="403.39" r="2.5" fill="#7bbec2"/>
<circle cx="528.78" cy="403.39" r="0.9" fill="#b0aaaa"/>
<circle cx="555.31" cy="403.39" r="0.9" fill="#a6b8bb"/>
<circle cx="581.84" cy="403.39" r="0.9" fill="#b0aaaa"/>
<circle cx="608.37" cy="403.39" r="0.9" fill="#a6b8bb"/>
<circle cx="634.90" cy="403.39" r="0.9" fill="#b0aaaa"/>
<circle cx="661.43" cy="403.39" r="0.9" fill="#a6b8bb"/>
<circle cx="104.30" cy="415.30" r="0.9" fill="#b0aaaa"/>
<circle cx="130.83" cy="415.30" r="0.9" fill="#a6b8bb"/>
<circle cx="157.36" cy="415.30" r="0.9" fill="#b0aaaa"/>
<circle cx="183.89" cy="415.30" r="0.9" fill="#a6b8bb"/>
<circle cx="210.42" cy="415.30" r="0.9" fill="#b0aaaa"/>
<circle cx="236.95" cy="415.30" r="1.0" fill="#8cbec1"/>
<circle cx="263.48" cy="415.30" r="0.9" fill="#b0aaaa"/>
<circle cx="290.01" cy="415.30" r="0.9" fill="#a6b8bb"/>
<circle cx="316.54" cy="415.30" r="0.9" fill="#b0aaaa"/>
<circle cx="343.07" cy="415.30" r="0.9" fill="#a6b8bb"/>
<circle cx="369.60" cy="415.30" r="6.0" fill="#dd776e"/>
<circle cx="396.13" cy="415.30" r="6.0" fill="#6ebec3"/>
<circle cx="422.66" cy="415.30" r="1.9" fill="#ce9a96"/>
<circle cx="449.19" cy="415.30" r="1.4" fill="#8cbec1"/>
<circle cx="475.72" cy="415.30" r="0.9" fill="#b0aaaa"/>
<circle cx="502.25" cy="415.30" r="0.9" fill="#a6b8bb"/>
<circle cx="528.78" cy="415.30" r="0.9" fill="#b0aaaa"/>
<circle cx="555.31" cy="415.30" r="0.9" fill="#a6b8bb"/>
<circle cx="581.84" cy="415.30" r="0.9" fill="#b0aaaa"/>
<circle cx="608.37" cy="415.30" r="0.9" fill="#a6b8bb"/>
<circle cx="634.90" cy="415.30" r="0.9" fill="#b0aaaa"/>
<circle cx="661.43" cy="415.30" r="0.9" fill="#a6b8bb"/>
<circle cx="104.30" cy="427.20" r="0.9" fill="#b0aaaa"/>
<circle cx="130.83" cy="427.20" r="0.9" fill="#a6b8bb"/>
<circle cx="157.36" cy="427.20" r="4.0" fill="#dd776e"/>
<circle cx="183.89" cy="427.20" r="3.8" fill="#6abec3"/>
<circle cx="210.42" cy="427.20" r="0.9" fill="#b0aaaa"/>
<circle cx="236.95" cy="427.20" r="0.9" fill="#a6b8bb"/>
<circle cx="263.48" cy="427.20" r="0.9" fill="#b0aaaa"/>
<circle cx="290.01" cy="427.20" r="0.9" fill="#a6b8bb"/>
<circle cx="316.54" cy="427.20" r="4.1" fill="#dd776e"/>
<circle cx="343.07" cy="427.20" r="4.1" fill="#6abec3"/>
<circle cx="369.60" cy="427.20" r="0.9" fill="#b0aaaa"/>
<circle cx="396.13" cy="427.20" r="0.9" fill="#a6b8bb"/>
<circle cx="422.66" cy="427.20" r="0.9" fill="#b0aaaa"/>
<circle cx="449.19" cy="427.20" r="0.9" fill="#a6b8bb"/>
<circle cx="475.72" cy="427.20" r="0.9" fill="#b0aaaa"/>
<circle cx="502.25" cy="427.20" r="0.9" fill="#a6b8bb"/>
<circle cx="528.78" cy="427.20" r="0.9" fill="#b0aaaa"/>
<circle cx="555.31" cy="427.20" r="0.9" fill="#a6b8bb"/>
<circle cx="581.84" cy="427.20" r="0.9" fill="#b0aaaa"/>
<circle cx="608.37" cy="427.20" r="0.9" fill="#a6b8bb"/>
<circle cx="634.90" cy="427.20" r="0.9" fill="#b0aaaa"/>
<circle cx="661.43" cy="427.20" r="0.9" fill="#a6b8bb"/>
<circle cx="104.30" cy="439.11" r="1.9" fill="#d1938e"/>
<circle cx="130.83" cy="439.11" r="2.1" fill="#83bec2"/>
<circle cx="157.36" cy="439.11" r="4.4" fill="#dd776e"/>
<circle cx="183.89" cy="439.11" r="4.3" fill="#6abec3"/>
<circle cx="210.42" cy="439.11" r="0.9" fill="#b0aaaa"/>
<circle cx="236.95" cy="439.11" r="0.9" fill="#a6b8bb"/>
<circle cx="263.48" cy="439.11" r="0.9" fill="#b0aaaa"/>
<circle cx="290.01" cy="439.11" r="0.9" fill="#a6b8bb"/>
<circle cx="316.54" cy="439.11" r="4.75" fill="#dd776e"/>
<circle cx="343.07" cy="439.11" r="4.75" fill="#6abec3"/>
<circle cx="369.60" cy="439.11" r="0.9" fill="#b0aaaa"/>
<circle cx="396.13" cy="439.11" r="0.9" fill="#a6b8bb"/>
<circle cx="422.66" cy="439.11" r="0.9" fill="#b0aaaa"/>
<circle cx="449.19" cy="439.11" r="0.9" fill="#a6b8bb"/>
<circle cx="475.72" cy="439.11" r="0.9" fill="#b0aaaa"/>
<circle cx="502.25" cy="439.11" r="0.9" fill="#a6b8bb"/>
<circle cx="528.78" cy="439.11" r="0.9" fill="#b0aaaa"/>
<circle cx="555.31" cy="439.11" r="0.9" fill="#a6b8bb"/>
<circle cx="581.84" cy="439.11" r="0.9" fill="#b0aaaa"/>
<circle cx="608.37" cy="439.11" r="0.9" fill="#a6b8bb"/>
<circle cx="634.90" cy="439.11" r="0.9" fill="#b0aaaa"/>
<circle cx="661.43" cy="439.11" r="0.9" fill="#a6b8bb"/>
<circle cx="104.30" cy="451.01" r="4.75" fill="#cc9e9a"/>
<circle cx="130.83" cy="451.01" r="4.75" fill="#87bec1"/>
<circle cx="157.36" cy="451.01" r="2.55" fill="#bebebe"/>
<circle cx="183.89" cy="451.01" r="2.55" fill="#bebebe"/>
<circle cx="210.42" cy="451.01" r="4.1" fill="#c7a9a6"/>
<circle cx="236.95" cy="451.01" r="4.2" fill="#9cbec0"/>
<circle cx="263.48" cy="451.01" r="4.3" fill="#ce9a96"/>
<circle cx="290.01" cy="451.01" r="3.9" fill="#83bec2"/>
<circle cx="316.54" cy="451.01" r="6.2" fill="#db7b72"/>
<circle cx="343.07" cy="451.01" r="6.2" fill="#6ebec3"/>
<circle cx="369.60" cy="451.01" r="4.75" fill="#cf9792"/>
<circle cx="396.13" cy="451.01" r="4.3" fill="#8cbec1"/>
<circle cx="422.66" cy="451.01" r="4.55" fill="#ce9a96"/>
<circle cx="449.19" cy="451.01" r="4.2" fill="#90bec1"/>
<circle cx="475.72" cy="451.01" r="3.9" fill="#ce9a96"/>
<circle cx="502.25" cy="451.01" r="3.6" fill="#83bec2"/>
<circle cx="528.78" cy="451.01" r="5.1" fill="#cc9e9a"/>
<circle cx="555.31" cy="451.01" r="4.7" fill="#7fbec2"/>
<circle cx="581.84" cy="451.01" r="4.85" fill="#cc9e9a"/>
<circle cx="608.37" cy="451.01" r="4.7" fill="#94bec0"/>
<circle cx="634.90" cy="451.01" r="4.7" fill="#d58982"/>
<circle cx="661.43" cy="451.01" r="5.0" fill="#72bec2"/>
<circle cx="104.30" cy="462.91" r="0.9" fill="#b0aaaa"/>
<circle cx="130.83" cy="462.91" r="0.9" fill="#a6b8bb"/>
<circle cx="157.36" cy="462.91" r="0.9" fill="#b0aaaa"/>
<circle cx="183.89" cy="462.91" r="0.9" fill="#a6b8bb"/>
<circle cx="210.42" cy="462.91" r="0.9" fill="#b0aaaa"/>
<circle cx="236.95" cy="462.91" r="0.9" fill="#a6b8bb"/>
<circle cx="263.48" cy="462.91" r="4.3" fill="#dd776e"/>
<circle cx="290.01" cy="462.91" r="3.8" fill="#6abec3"/>
<circle cx="316.54" cy="462.91" r="0.9" fill="#b0aaaa"/>
<circle cx="343.07" cy="462.91" r="0.9" fill="#a6b8bb"/>
<circle cx="369.60" cy="462.91" r="0.9" fill="#b0aaaa"/>
<circle cx="396.13" cy="462.91" r="0.9" fill="#a6b8bb"/>
<circle cx="422.66" cy="462.91" r="0.9" fill="#b0aaaa"/>
<circle cx="449.19" cy="462.91" r="0.9" fill="#a6b8bb"/>
<circle cx="475.72" cy="462.91" r="2.3" fill="#d7857e"/>
<circle cx="502.25" cy="462.91" r="1.9" fill="#72bec2"/>
<circle cx="528.78" cy="462.91" r="0.9" fill="#b0aaaa"/>
<circle cx="555.31" cy="462.91" r="0.9" fill="#a6b8bb"/>
<circle cx="581.84" cy="462.91" r="0.9" fill="#b0aaaa"/>
<circle cx="608.37" cy="462.91" r="0.9" fill="#a6b8bb"/>
<circle cx="634.90" cy="462.91" r="0.9" fill="#b0aaaa"/>
<circle cx="661.43" cy="462.91" r="0.9" fill="#a6b8bb"/>
<circle cx="104.30" cy="474.82" r="0.9" fill="#b0aaaa"/>
<circle cx="130.83" cy="474.82" r="0.9" fill="#a6b8bb"/>
<circle cx="157.36" cy="474.82" r="0.9" fill="#b0aaaa"/>
<circle cx="183.89" cy="474.82" r="0.9" fill="#a6b8bb"/>
<circle cx="210.42" cy="474.82" r="0.9" fill="#b0aaaa"/>
<circle cx="236.95" cy="474.82" r="0.9" fill="#a6b8bb"/>
<circle cx="263.48" cy="474.82" r="3.7" fill="#dd776e"/>
<circle cx="290.01" cy="474.82" r="4.2" fill="#6abec3"/>
<circle cx="316.54" cy="474.82" r="0.9" fill="#b0aaaa"/>
<circle cx="343.07" cy="474.82" r="0.9" fill="#a6b8bb"/>
<circle cx="369.60" cy="474.82" r="0.9" fill="#b0aaaa"/>
<circle cx="396.13" cy="474.82" r="0.9" fill="#a6b8bb"/>
<circle cx="422.66" cy="474.82" r="0.9" fill="#b0aaaa"/>
<circle cx="449.19" cy="474.82" r="0.9" fill="#a6b8bb"/>
<circle cx="475.72" cy="474.82" r="1.4" fill="#d1938e"/>
<circle cx="502.25" cy="474.82" r="1.3" fill="#83bec2"/>
<circle cx="528.78" cy="474.82" r="0.9" fill="#b0aaaa"/>
<circle cx="555.31" cy="474.82" r="0.9" fill="#a6b8bb"/>
<circle cx="581.84" cy="474.82" r="0.9" fill="#b0aaaa"/>
<circle cx="608.37" cy="474.82" r="0.9" fill="#a6b8bb"/>
<circle cx="634.90" cy="474.82" r="0.9" fill="#b0aaaa"/>
<circle cx="661.43" cy="474.82" r="0.9" fill="#a6b8bb"/>
<circle cx="104.30" cy="486.72" r="0.9" fill="#b0aaaa"/>
<circle cx="130.83" cy="486.72" r="0.9" fill="#a6b8bb"/>
<circle cx="157.36" cy="486.72" r="0.9" fill="#b0aaaa"/>
<circle cx="183.89" cy="486.72" r="0.9" fill="#a6b8bb"/>
<circle cx="210.42" cy="486.72" r="2.5" fill="#ce9a96"/>
<circle cx="236.95" cy="486.72" r="2.1" fill="#83bec2"/>
<circle cx="263.48" cy="486.72" r="5.2" fill="#dd776e"/>
<circle cx="290.01" cy="486.72" r="5.2" fill="#6abec3"/>
<circle cx="316.54" cy="486.72" r="1.4" fill="#ce9a96"/>
<circle cx="343.07" cy="486.72" r="0.9" fill="#a6b8bb"/>
<circle cx="369.60" cy="486.72" r="0.9" fill="#b0aaaa"/>
<circle cx="396.13" cy="486.72" r="0.9" fill="#a6b8bb"/>
<circle cx="422.66" cy="486.72" r="0.9" fill="#b0aaaa"/>
<circle cx="449.19" cy="486.72" r="0.9" fill="#a6b8bb"/>
<circle cx="475.72" cy="486.72" r="2.3" fill="#ce9a96"/>
<circle cx="502.25" cy="486.72" r="2.3" fill="#83bec2"/>
<circle cx="528.78" cy="486.72" r="2.35" fill="#ce9a96"/>
<circle cx="555.31" cy="486.72" r="2.5" fill="#83bec2"/>
<circle cx="581.84" cy="486.72" r="5.25" fill="#dd776e"/>
<circle cx="608.37" cy="486.72" r="4.7" fill="#6abec3"/>
<circle cx="634.90" cy="486.72" r="1.1" fill="#ce9a96"/>
<circle cx="661.43" cy="486.72" r="1.2" fill="#8cbec1"/>
<circle cx="104.30" cy="498.63" r="2.3" fill="#ce9a96"/>
<circle cx="130.83" cy="498.63" r="2.3" fill="#83bec2"/>
<circle cx="157.36" cy="498.63" r="2.2" fill="#ce9a96"/>
<circle cx="183.89" cy="498.63" r="2.2" fill="#83bec2"/>
<circle cx="210.42" cy="498.63" r="2.1" fill="#ce9a96"/>
<circle cx="236.95" cy="498.63" r="1.5" fill="#8cbec1"/>
<circle cx="263.48" cy="498.63" r="6.2" fill="#dd776e"/>
<circle cx="290.01" cy="498.63" r="5.8" fill="#6abec3"/>
<circle cx="316.54" cy="498.63" r="2.1" fill="#ce9a96"/>
<circle cx="343.07" cy="498.63" r="2.1" fill="#8cbec1"/>
<circle cx="369.60" cy="498.63" r="1.8" fill="#ce9a96"/>
<circle cx="396.13" cy="498.63" r="2.0" fill="#83bec2"/>
<circle cx="422.66" cy="498.63" r="2.0" fill="#ce9a96"/>
<circle cx="449.19" cy="498.63" r="2.3" fill="#83bec2"/>
<circle cx="475.72" cy="498.63" r="4.4" fill="#d58982"/>
<circle cx="502.25" cy="498.63" r="4.4" fill="#72bec2"/>
<circle cx="528.78" cy="498.63" r="1.5" fill="#ce9a96"/>
<circle cx="555.31" cy="498.63" r="1.6" fill="#8cbec1"/>
<circle cx="581.84" cy="498.63" r="1.2" fill="#ce9a96"/>
<circle cx="608.37" cy="498.63" r="2.0" fill="#8cbec1"/>
<circle cx="634.90" cy="498.63" r="2.35" fill="#ce9a96"/>
<circle cx="661.43" cy="498.63" r="2.65" fill="#83bec2"/>
<circle cx="104.30" cy="510.53" r="0.9" fill="#b0aaaa"/>
<circle cx="130.83" cy="510.53" r="0.9" fill="#a6b8bb"/>
<circle cx="157.36" cy="510.53" r="0.9" fill="#b0aaaa"/>
<circle cx="183.89" cy="510.53" r="0.9" fill="#a6b8bb"/>
<circle cx="210.42" cy="510.53" r="1.3" fill="#ce9a96"/>
<circle cx="236.95" cy="510.53" r="0.9" fill="#a6b8bb"/>
<circle cx="263.48" cy="510.53" r="5.2" fill="#dd776e"/>
<circle cx="290.01" cy="510.53" r="5.2" fill="#6abec3"/>
<circle cx="316.54" cy="510.53" r="1.3" fill="#ce9a96"/>
<circle cx="343.07" cy="510.53" r="0.9" fill="#a6b8bb"/>
<circle cx="369.60" cy="510.53" r="1.4" fill="#ce9a96"/>
<circle cx="396.13" cy="510.53" r="1.4" fill="#8cbec1"/>
<circle cx="422.66" cy="510.53" r="0.9" fill="#b0aaaa"/>
<circle cx="449.19" cy="510.53" r="0.9" fill="#a6b8bb"/>
<circle cx="475.72" cy="510.53" r="2.3" fill="#d1938e"/>
<circle cx="502.25" cy="510.53" r="2.0" fill="#7bbec2"/>
<circle cx="528.78" cy="510.53" r="0.9" fill="#b0aaaa"/>
<circle cx="555.31" cy="510.53" r="0.9" fill="#a6b8bb"/>
<circle cx="581.84" cy="510.53" r="0.9" fill="#b0aaaa"/>
<circle cx="608.37" cy="510.53" r="2.0" fill="#7bbec2"/>
<circle cx="634.90" cy="510.53" r="0.9" fill="#b0aaaa"/>
<circle cx="661.43" cy="510.53" r="1.3" fill="#8cbec1"/>
<circle cx="104.30" cy="522.44" r="0.9" fill="#b0aaaa"/>
<circle cx="130.83" cy="522.44" r="0.9" fill="#a6b8bb"/>
<circle cx="157.36" cy="522.44" r="0.9" fill="#b0aaaa"/>
<circle cx="183.89" cy="522.44" r="0.9" fill="#a6b8bb"/>
<circle cx="210.42" cy="522.44" r="4.3" fill="#dd776e"/>
<circle cx="236.95" cy="522.44" r="4.4" fill="#6abec3"/>
<circle cx="263.48" cy="522.44" r="0.9" fill="#b0aaaa"/>
<circle cx="290.01" cy="522.44" r="0.9" fill="#a6b8bb"/>
<circle cx="316.54" cy="522.44" r="0.9" fill="#b0aaaa"/>
<circle cx="343.07" cy="522.44" r="0.9" fill="#a6b8bb"/>
<circle cx="369.60" cy="522.44" r="0.9" fill="#b0aaaa"/>
<circle cx="396.13" cy="522.44" r="0.9" fill="#a6b8bb"/>
<circle cx="422.66" cy="522.44" r="5.1" fill="#dd776e"/>
<circle cx="449.19" cy="522.44" r="5.0" fill="#6abec3"/>
<circle cx="475.72" cy="522.44" r="0.9" fill="#b0aaaa"/>
<circle cx="502.25" cy="522.44" r="0.9" fill="#a6b8bb"/>
<circle cx="528.78" cy="522.44" r="0.9" fill="#b0aaaa"/>
<circle cx="555.31" cy="522.44" r="0.9" fill="#a6b8bb"/>
<circle cx="581.84" cy="522.44" r="0.9" fill="#b0aaaa"/>
<circle cx="608.37" cy="522.44" r="0.9" fill="#a6b8bb"/>
<circle cx="634.90" cy="522.44" r="0.9" fill="#b0aaaa"/>
<circle cx="661.43" cy="522.44" r="0.9" fill="#a6b8bb"/>
<circle cx="104.30" cy="534.34" r="1.8" fill="#ce9a96"/>
<circle cx="130.83" cy="534.34" r="1.7" fill="#8cbec1"/>
<circle cx="157.36" cy="534.34" r="1.3" fill="#ce9a96"/>
<circle cx="183.89" cy="534.34" r="0.9" fill="#a6b8bb"/>
<circle cx="210.42" cy="534.34" r="5.0" fill="#db7b72"/>
<circle cx="236.95" cy="534.34" r="5.0" fill="#6ebec3"/>
<circle cx="263.48" cy="534.34" r="2.4" fill="#ce9a96"/>
<circle cx="290.01" cy="534.34" r="2.4" fill="#8cbec1"/>
<circle cx="316.54" cy="534.34" r="0.9" fill="#b0aaaa"/>
<circle cx="343.07" cy="534.34" r="0.9" fill="#a6b8bb"/>
<circle cx="369.60" cy="534.34" r="2.0" fill="#ce9a96"/>
<circle cx="396.13" cy="534.34" r="2.3" fill="#8cbec1"/>
<circle cx="422.66" cy="534.34" r="4.75" fill="#d48c86"/>
<circle cx="449.19" cy="534.34" r="4.4" fill="#77bec2"/>
<circle cx="475.72" cy="534.34" r="1.3" fill="#ce9a96"/>
<circle cx="502.25" cy="534.34" r="1.5" fill="#8cbec1"/>
<circle cx="528.78" cy="534.34" r="3.4" fill="#d1938e"/>
<circle cx="555.31" cy="534.34" r="3.1" fill="#83bec2"/>
<circle cx="581.84" cy="534.34" r="4.55" fill="#da7e76"/>
<circle cx="608.37" cy="534.34" r="4.85" fill="#6ebec3"/>
<circle cx="634.90" cy="534.34" r="1.3" fill="#ce9a96"/>
<circle cx="661.43" cy="534.34" r="2.2" fill="#8cbec1"/>
<circle cx="104.30" cy="546.25" r="6.2" fill="#cf9792"/>
<circle cx="130.83" cy="546.25" r="6.2" fill="#7bbec2"/>
<circle cx="157.36" cy="546.25" r="5.8" fill="#c6acaa"/>
<circle cx="183.89" cy="546.25" r="5.9" fill="#94bec0"/>
<circle cx="210.42" cy="546.25" r="6.2" fill="#d58982"/>
<circle cx="236.95" cy="546.25" r="6.3" fill="#72bec2"/>
<circle cx="263.48" cy="546.25" r="5.7" fill="#c7a9a6"/>
<circle cx="290.01" cy="546.25" r="5.8" fill="#94bec0"/>
<circle cx="316.54" cy="546.25" r="5.9" fill="#c7a9a6"/>
<circle cx="343.07" cy="546.25" r="5.9" fill="#94bec0"/>
<circle cx="369.60" cy="546.25" r="6.3" fill="#d7857e"/>
<circle cx="396.13" cy="546.25" r="6.0" fill="#72bec2"/>
<circle cx="422.66" cy="546.25" r="6.2" fill="#d1938e"/>
<circle cx="449.19" cy="546.25" r="6.1" fill="#7fbec2"/>
<circle cx="475.72" cy="546.25" r="5.7" fill="#c6acaa"/>
<circle cx="502.25" cy="546.25" r="6.1" fill="#90bec1"/>
<circle cx="528.78" cy="546.25" r="6.0" fill="#d1938e"/>
<circle cx="555.31" cy="546.25" r="6.0" fill="#77bec2"/>
<circle cx="581.84" cy="546.25" r="5.7" fill="#c7a9a6"/>
<circle cx="608.37" cy="546.25" r="5.3" fill="#94bec0"/>
<circle cx="634.90" cy="546.25" r="6.0" fill="#caa29e"/>
<circle cx="661.43" cy="546.25" r="6.0" fill="#90bec1"/>
<circle cx="104.30" cy="558.15" r="0.9" fill="#b0aaaa"/>
<circle cx="130.83" cy="558.15" r="0.9" fill="#a6b8bb"/>
<circle cx="157.36" cy="558.15" r="0.9" fill="#b0aaaa"/>
<circle cx="183.89" cy="558.15" r="0.9" fill="#a6b8bb"/>
<circle cx="210.42" cy="558.15" r="4.75" fill="#db7b72"/>
<circle cx="236.95" cy="558.15" r="4.3" fill="#6ebec3"/>
<circle cx="263.48" cy="558.15" r="1.9" fill="#ce9a96"/>
<circle cx="290.01" cy="558.15" r="2.0" fill="#83bec2"/>
<circle cx="316.54" cy="558.15" r="0.9" fill="#b0aaaa"/>
<circle cx="343.07" cy="558.15" r="0.9" fill="#a6b8bb"/>
<circle cx="369.60" cy="558.15" r="0.9" fill="#b0aaaa"/>
<circle cx="396.13" cy="558.15" r="0.9" fill="#a6b8bb"/>
<circle cx="422.66" cy="558.15" r="3.2" fill="#d1938e"/>
<circle cx="449.19" cy="558.15" r="3.0" fill="#7bbec2"/>
<circle cx="475.72" cy="558.15" r="0.9" fill="#b0aaaa"/>
<circle cx="502.25" cy="558.15" r="0.9" fill="#a6b8bb"/>
<circle cx="528.78" cy="558.15" r="0.9" fill="#b0aaaa"/>
<circle cx="555.31" cy="558.15" r="0.9" fill="#a6b8bb"/>
<circle cx="581.84" cy="558.15" r="5.7" fill="#db7b72"/>
<circle cx="608.37" cy="558.15" r="5.9" fill="#6ebec3"/>
<circle cx="634.90" cy="558.15" r="1.9" fill="#ce9a96"/>
<circle cx="661.43" cy="558.15" r="0.9" fill="#a6b8bb"/>
<circle cx="104.30" cy="570.06" r="0.9" fill="#b0aaaa"/>
<circle cx="130.83" cy="570.06" r="0.9" fill="#a6b8bb"/>
<circle cx="157.36" cy="570.06" r="0.9" fill="#b0aaaa"/>
<circle cx="183.89" cy="570.06" r="0.9" fill="#a6b8bb"/>
<circle cx="210.42" cy="570.06" r="4.75" fill="#db7b72"/>
<circle cx="236.95" cy="570.06" r="4.75" fill="#6ebec3"/>
<circle cx="263.48" cy="570.06" r="0.9" fill="#b0aaaa"/>
<circle cx="290.01" cy="570.06" r="0.9" fill="#a6b8bb"/>
<circle cx="316.54" cy="570.06" r="0.9" fill="#b0aaaa"/>
<circle cx="343.07" cy="570.06" r="0.9" fill="#a6b8bb"/>
<circle cx="369.60" cy="570.06" r="0.9" fill="#b0aaaa"/>
<circle cx="396.13" cy="570.06" r="0.9" fill="#a6b8bb"/>
<circle cx="422.66" cy="570.06" r="5.1" fill="#d48c86"/>
<circle cx="449.19" cy="570.06" r="5.1" fill="#72bec2"/>
<circle cx="475.72" cy="570.06" r="0.9" fill="#b0aaaa"/>
<circle cx="502.25" cy="570.06" r="0.9" fill="#a6b8bb"/>
<circle cx="528.78" cy="570.06" r="1.1" fill="#ce9a96"/>
<circle cx="555.31" cy="570.06" r="1.1" fill="#8cbec1"/>
<circle cx="581.84" cy="570.06" r="5.1" fill="#db7b72"/>
<circle cx="608.37" cy="570.06" r="5.2" fill="#6ebec3"/>
<circle cx="634.90" cy="570.06" r="1.3" fill="#ce9a96"/>
<circle cx="661.43" cy="570.06" r="0.9" fill="#a6b8bb"/>
<circle cx="104.30" cy="581.96" r="2.65" fill="#ce9a96"/>
<circle cx="130.83" cy="581.96" r="2.65" fill="#8cbec1"/>
<circle cx="157.36" cy="581.96" r="6.1" fill="#db7b72"/>
<circle cx="183.89" cy="581.96" r="6.1" fill="#6ebec3"/>
<circle cx="210.42" cy="581.96" r="2.5" fill="#ce9a96"/>
<circle cx="236.95" cy="581.96" r="2.85" fill="#8cbec1"/>
<circle cx="263.48" cy="581.96" r="4.9" fill="#d1938e"/>
<circle cx="290.01" cy="581.96" r="4.55" fill="#7bbec2"/>
<circle cx="316.54" cy="581.96" r="6.1" fill="#db7b72"/>
<circle cx="343.07" cy="581.96" r="6.2" fill="#6ebec3"/>
<circle cx="369.60" cy="581.96" r="3.8" fill="#ce9a96"/>
<circle cx="396.13" cy="581.96" r="3.4" fill="#83bec2"/>
<circle cx="422.66" cy="581.96" r="1.6" fill="#ce9a96"/>
<circle cx="449.19" cy="581.96" r="1.5" fill="#8cbec1"/>
<circle cx="475.72" cy="581.96" r="2.2" fill="#ce9a96"/>
<circle cx="502.25" cy="581.96" r="2.3" fill="#83bec2"/>
<circle cx="528.78" cy="581.96" r="5.5" fill="#d1938e"/>
<circle cx="555.31" cy="581.96" r="5.65" fill="#77bec2"/>
<circle cx="581.84" cy="581.96" r="2.9" fill="#cf9792"/>
<circle cx="608.37" cy="581.96" r="3.3" fill="#7fbec2"/>
<circle cx="634.90" cy="581.96" r="3.0" fill="#ce9a96"/>
<circle cx="661.43" cy="581.96" r="1.2" fill="#8cbec1"/>
<circle cx="104.30" cy="593.87" r="3.4" fill="#ce9a96"/>
<circle cx="130.83" cy="593.87" r="3.4" fill="#8cbec1"/>
<circle cx="157.36" cy="593.87" r="5.9" fill="#db7b72"/>
<circle cx="183.89" cy="593.87" r="5.9" fill="#6ebec3"/>
<circle cx="210.42" cy="593.87" r="1.3" fill="#ce9a96"/>
<circle cx="236.95" cy="593.87" r="1.3" fill="#8cbec1"/>
<circle cx="263.48" cy="593.87" r="3.5" fill="#ce9a96"/>
<circle cx="290.01" cy="593.87" r="3.3" fill="#7bbec2"/>
<circle cx="316.54" cy="593.87" r="5.9" fill="#db7b72"/>
<circle cx="343.07" cy="593.87" r="5.9" fill="#6ebec3"/>
<circle cx="369.60" cy="593.87" r="1.5" fill="#ce9a96"/>
<circle cx="396.13" cy="593.87" r="1.4" fill="#8cbec1"/>
<circle cx="422.66" cy="593.87" r="1.5" fill="#ce9a96"/>
<circle cx="449.19" cy="593.87" r="1.5" fill="#8cbec1"/>
<circle cx="475.72" cy="593.87" r="1.9" fill="#ce9a96"/>
<circle cx="502.25" cy="593.87" r="1.5" fill="#8cbec1"/>
<circle cx="528.78" cy="593.87" r="1.4" fill="#ce9a96"/>
<circle cx="555.31" cy="593.87" r="1.3" fill="#8cbec1"/>
<circle cx="581.84" cy="593.87" r="1.2" fill="#ce9a96"/>
<circle cx="608.37" cy="593.87" r="1.4" fill="#8cbec1"/>
<circle cx="634.90" cy="593.87" r="1.95" fill="#ce9a96"/>
<circle cx="661.43" cy="593.87" r="2.0" fill="#83bec2"/>
<circle cx="104.30" cy="605.77" r="1.2" fill="#ce9a96"/>
<circle cx="130.83" cy="605.77" r="1.2" fill="#8cbec1"/>
<circle cx="157.36" cy="605.77" r="5.2" fill="#db7b72"/>
<circle cx="183.89" cy="605.77" r="5.4" fill="#6ebec3"/>
<circle cx="210.42" cy="605.77" r="1.2" fill="#ce9a96"/>
<circle cx="236.95" cy="605.77" r="0.9" fill="#a6b8bb"/>
<circle cx="263.48" cy="605.77" r="1.3" fill="#ce9a96"/>
<circle cx="290.01" cy="605.77" r="1.1" fill="#8cbec1"/>
<circle cx="316.54" cy="605.77" r="4.9" fill="#db7b72"/>
<circle cx="343.07" cy="605.77" r="4.9" fill="#6ebec3"/>
<circle cx="369.60" cy="605.77" r="1.9" fill="#ce9a96"/>
<circle cx="396.13" cy="605.77" r="1.9" fill="#83bec2"/>
<circle cx="422.66" cy="605.77" r="1.9" fill="#ce9a96"/>
<circle cx="449.19" cy="605.77" r="1.9" fill="#8cbec1"/>
<circle cx="475.72" cy="605.77" r="1.2" fill="#ce9a96"/>
<circle cx="502.25" cy="605.77" r="1.2" fill="#8cbec1"/>
<circle cx="528.78" cy="605.77" r="1.7" fill="#ce9a96"/>
<circle cx="555.31" cy="605.77" r="1.1" fill="#8cbec1"/>
<circle cx="581.84" cy="605.77" r="1.7" fill="#ce9a96"/>
<circle cx="608.37" cy="605.77" r="1.0" fill="#8cbec1"/>
<circle cx="634.90" cy="605.77" r="1.8" fill="#ce9a96"/>
<circle cx="661.43" cy="605.77" r="1.3" fill="#8cbec1"/>
<circle cx="104.30" cy="617.68" r="2.1" fill="#d1938e"/>
<circle cx="130.83" cy="617.68" r="2.1" fill="#83bec2"/>
<circle cx="157.36" cy="617.68" r="5.5" fill="#db7b72"/>
<circle cx="183.89" cy="617.68" r="5.6" fill="#6ebec3"/>
<circle cx="210.42" cy="617.68" r="0.9" fill="#b0aaaa"/>
<circle cx="236.95" cy="617.68" r="0.9" fill="#a6b8bb"/>
<circle cx="263.48" cy="617.68" r="1.2" fill="#ce9a96"/>
<circle cx="290.01" cy="617.68" r="0.9" fill="#a6b8bb"/>
<circle cx="316.54" cy="617.68" r="5.5" fill="#db7b72"/>
<circle cx="343.07" cy="617.68" r="5.5" fill="#6ebec3"/>
<circle cx="369.60" cy="617.68" r="1.6" fill="#ce9a96"/>
<circle cx="396.13" cy="617.68" r="1.3" fill="#8cbec1"/>
<circle cx="422.66" cy="617.68" r="1.3" fill="#ce9a96"/>
<circle cx="449.19" cy="617.68" r="1.9" fill="#83bec2"/>
<circle cx="475.72" cy="617.68" r="1.1" fill="#ce9a96"/>
<circle cx="502.25" cy="617.68" r="1.2" fill="#8cbec1"/>
<circle cx="528.78" cy="617.68" r="1.6" fill="#ce9a96"/>
<circle cx="555.31" cy="617.68" r="1.4" fill="#8cbec1"/>
<circle cx="581.84" cy="617.68" r="1.3" fill="#ce9a96"/>
<circle cx="608.37" cy="617.68" r="1.0" fill="#8cbec1"/>
<circle cx="634.90" cy="617.68" r="1.5" fill="#ce9a96"/>
<circle cx="661.43" cy="617.68" r="0.9" fill="#a6b8bb"/>
<circle cx="104.30" cy="629.58" r="0.9" fill="#b0aaaa"/>
<circle cx="130.83" cy="629.58" r="0.9" fill="#a6b8bb"/>
<circle cx="157.36" cy="629.58" r="5.1" fill="#db7b72"/>
<circle cx="183.89" cy="629.58" r="5.3" fill="#6ebec3"/>
<circle cx="210.42" cy="629.58" r="0.9" fill="#b0aaaa"/>
<circle cx="236.95" cy="629.58" r="0.9" fill="#a6b8bb"/>
<circle cx="263.48" cy="629.58" r="1.9" fill="#ce9a96"/>
<circle cx="290.01" cy="629.58" r="1.8" fill="#8cbec1"/>
<circle cx="316.54" cy="629.58" r="5.3" fill="#db7b72"/>
<circle cx="343.07" cy="629.58" r="5.2" fill="#6ebec3"/>
<circle cx="369.60" cy="629.58" r="1.6" fill="#ce9a96"/>
<circle cx="396.13" cy="629.58" r="1.2" fill="#8cbec1"/>
<circle cx="422.66" cy="629.58" r="0.9" fill="#b0aaaa"/>
<circle cx="449.19" cy="629.58" r="1.2" fill="#8cbec1"/>
<circle cx="475.72" cy="629.58" r="1.8" fill="#ce9a96"/>
<circle cx="502.25" cy="629.58" r="1.3" fill="#8cbec1"/>
<circle cx="528.78" cy="629.58" r="1.1" fill="#ce9a96"/>
<circle cx="555.31" cy="629.58" r="1.1" fill="#8cbec1"/>
<circle cx="581.84" cy="629.58" r="1.1" fill="#ce9a96"/>
<circle cx="608.37" cy="629.58" r="0.9" fill="#a6b8bb"/>
<circle cx="634.90" cy="629.58" r="3.1" fill="#ce9a96"/>
<circle cx="661.43" cy="629.58" r="2.0" fill="#83bec2"/>
<circle cx="104.30" cy="641.49" r="5.95" fill="#db7b72"/>
<circle cx="130.83" cy="641.49" r="5.9" fill="#6ebec3"/>
<circle cx="157.36" cy="641.49" r="4.55" fill="#d1938e"/>
<circle cx="183.89" cy="641.49" r="4.4" fill="#77bec2"/>
<circle cx="210.42" cy="641.49" r="4.1" fill="#cc9e9a"/>
<circle cx="236.95" cy="641.49" r="3.9" fill="#90bec1"/>
<circle cx="263.48" cy="641.49" r="2.75" fill="#ce9a96"/>
<circle cx="290.01" cy="641.49" r="3.0" fill="#8cbec1"/>
<circle cx="316.54" cy="641.49" r="4.9" fill="#d1938e"/>
<circle cx="343.07" cy="641.49" r="4.55" fill="#77bec2"/>
<circle cx="369.60" cy="641.49" r="3.2" fill="#cc9e9a"/>
<circle cx="396.13" cy="641.49" r="3.4" fill="#90bec1"/>
<circle cx="422.66" cy="641.49" r="3.3" fill="#cc9e9a"/>
<circle cx="449.19" cy="641.49" r="3.2" fill="#90bec1"/>
<circle cx="475.72" cy="641.49" r="2.5" fill="#cc9e9a"/>
<circle cx="502.25" cy="641.49" r="2.65" fill="#90bec1"/>
<circle cx="528.78" cy="641.49" r="5.0" fill="#cc9e9a"/>
<circle cx="555.31" cy="641.49" r="4.0" fill="#8cbec1"/>
<circle cx="581.84" cy="641.49" r="3.2" fill="#d1938e"/>
<circle cx="608.37" cy="641.49" r="2.7" fill="#94bec0"/>
<circle cx="634.90" cy="641.49" r="3.4" fill="#ce9a96"/>
<circle cx="661.43" cy="641.49" r="3.7" fill="#77bec2"/>
<circle cx="104.30" cy="653.39" r="6.0" fill="#db7b72"/>
<circle cx="130.83" cy="653.39" r="5.85" fill="#6ebec3"/>
<circle cx="157.36" cy="653.39" r="5.3" fill="#d48c86"/>
<circle cx="183.89" cy="653.39" r="5.2" fill="#72bec2"/>
<circle cx="210.42" cy="653.39" r="2.1" fill="#ce9a96"/>
<circle cx="236.95" cy="653.39" r="2.1" fill="#8cbec1"/>
<circle cx="263.48" cy="653.39" r="2.1" fill="#ce9a96"/>
<circle cx="290.01" cy="653.39" r="1.9" fill="#8cbec1"/>
<circle cx="316.54" cy="653.39" r="4.9" fill="#d2908a"/>
<circle cx="343.07" cy="653.39" r="4.55" fill="#77bec2"/>
<circle cx="369.60" cy="653.39" r="1.7" fill="#ce9a96"/>
<circle cx="396.13" cy="653.39" r="1.8" fill="#83bec2"/>
<circle cx="422.66" cy="653.39" r="3.1" fill="#d2908a"/>
<circle cx="449.19" cy="653.39" r="3.3" fill="#7bbec2"/>
<circle cx="475.72" cy="653.39" r="1.0" fill="#ce9a96"/>
<circle cx="502.25" cy="653.39" r="1.0" fill="#8cbec1"/>
<circle cx="528.78" cy="653.39" r="3.75" fill="#d58982"/>
<circle cx="555.31" cy="653.39" r="3.7" fill="#72bec2"/>
<circle cx="581.84" cy="653.39" r="1.4" fill="#ce9a96"/>
<circle cx="608.37" cy="653.39" r="1.2" fill="#8cbec1"/>
<circle cx="634.90" cy="653.39" r="1.6" fill="#ce9a96"/>
<circle cx="661.43" cy="653.39" r="1.2" fill="#8cbec1"/>
<circle cx="104.30" cy="665.30" r="4.4" fill="#dd776e"/>
<circle cx="130.83" cy="665.30" r="4.3" fill="#6abec3"/>
<circle cx="157.36" cy="665.30" r="1.7" fill="#ce9a96"/>
<circle cx="183.89" cy="665.30" r="1.5" fill="#8cbec1"/>
<circle cx="210.42" cy="665.30" r="0.9" fill="#b0aaaa"/>
<circle cx="236.95" cy="665.30" r="0.9" fill="#a6b8bb"/>
<circle cx="263.48" cy="665.30" r="2.1" fill="#ce9a96"/>
<circle cx="290.01" cy="665.30" r="1.9" fill="#7bbec2"/>
<circle cx="316.54" cy="665.30" r="1.8" fill="#ce9a96"/>
<circle cx="343.07" cy="665.30" r="1.8" fill="#7bbec2"/>
<circle cx="369.60" cy="665.30" r="0.9" fill="#b0aaaa"/>
<circle cx="396.13" cy="665.30" r="0.9" fill="#a6b8bb"/>
<circle cx="422.66" cy="665.30" r="0.9" fill="#b0aaaa"/>
<circle cx="449.19" cy="665.30" r="0.9" fill="#a6b8bb"/>
<circle cx="475.72" cy="665.30" r="0.9" fill="#b0aaaa"/>
<circle cx="502.25" cy="665.30" r="0.9" fill="#a6b8bb"/>
<circle cx="528.78" cy="665.30" r="2.15" fill="#d7857e"/>
<circle cx="555.31" cy="665.30" r="2.0" fill="#72bec2"/>
<circle cx="581.84" cy="665.30" r="0.9" fill="#b0aaaa"/>
<circle cx="608.37" cy="665.30" r="0.9" fill="#a6b8bb"/>
<circle cx="634.90" cy="665.30" r="0.9" fill="#b0aaaa"/>
<circle cx="661.43" cy="665.30" r="0.9" fill="#a6b8bb"/>
<circle cx="104.30" cy="677.20" r="4.85" fill="#dd776e"/>
<circle cx="130.83" cy="677.20" r="5.0" fill="#6abec3"/>
<circle cx="157.36" cy="677.20" r="0.9" fill="#b0aaaa"/>
<circle cx="183.89" cy="677.20" r="0.9" fill="#a6b8bb"/>
<circle cx="210.42" cy="677.20" r="0.9" fill="#b0aaaa"/>
<circle cx="236.95" cy="677.20" r="0.9" fill="#a6b8bb"/>
<circle cx="263.48" cy="677.20" r="0.9" fill="#b0aaaa"/>
<circle cx="290.01" cy="677.20" r="0.9" fill="#a6b8bb"/>
<circle cx="316.54" cy="677.20" r="0.9" fill="#b0aaaa"/>
<circle cx="343.07" cy="677.20" r="0.9" fill="#a6b8bb"/>
<circle cx="369.60" cy="677.20" r="4.65" fill="#dd776e"/>
<circle cx="396.13" cy="677.20" r="4.65" fill="#6abec3"/>
<circle cx="422.66" cy="677.20" r="0.9" fill="#b0aaaa"/>
<circle cx="449.19" cy="677.20" r="0.9" fill="#a6b8bb"/>
<circle cx="475.72" cy="677.20" r="0.9" fill="#b0aaaa"/>
<circle cx="502.25" cy="677.20" r="0.9" fill="#a6b8bb"/>
<circle cx="528.78" cy="677.20" r="4.3" fill="#dd776e"/>
<circle cx="555.31" cy="677.20" r="4.45" fill="#6abec3"/>
<circle cx="581.84" cy="677.20" r="0.9" fill="#b0aaaa"/>
<circle cx="608.37" cy="677.20" r="0.9" fill="#a6b8bb"/>
<circle cx="634.90" cy="677.20" r="1.5" fill="#ce9a96"/>
<circle cx="661.43" cy="677.20" r="3.0" fill="#72bec2"/>
<circle cx="104.30" cy="689.11" r="5.1" fill="#dd776e"/>
<circle cx="130.83" cy="689.11" r="5.1" fill="#6abec3"/>
<circle cx="157.36" cy="689.11" r="1.6" fill="#ce9a96"/>
<circle cx="183.89" cy="689.11" r="1.5" fill="#8cbec1"/>
<circle cx="210.42" cy="689.11" r="2.4" fill="#d7857e"/>
<circle cx="236.95" cy="689.11" r="2.5" fill="#72bec2"/>
<circle cx="263.48" cy="689.11" r="0.9" fill="#b0aaaa"/>
<circle cx="290.01" cy="689.11" r="0.9" fill="#a6b8bb"/>
<circle cx="316.54" cy="689.11" r="1.5" fill="#ce9a96"/>
<circle cx="343.07" cy="689.11" r="1.3" fill="#8cbec1"/>
<circle cx="369.60" cy="689.11" r="2.4" fill="#d7857e"/>
<circle cx="396.13" cy="689.11" r="2.65" fill="#6abec3"/>
<circle cx="422.66" cy="689.11" r="1.4" fill="#ce9a96"/>
<circle cx="449.19" cy="689.11" r="1.1" fill="#8cbec1"/>
<circle cx="475.72" cy="689.11" r="0.9" fill="#b0aaaa"/>
<circle cx="502.25" cy="689.11" r="0.9" fill="#a6b8bb"/>
<circle cx="528.78" cy="689.11" r="3.75" fill="#dd776e"/>
<circle cx="555.31" cy="689.11" r="3.6" fill="#6abec3"/>
<circle cx="581.84" cy="689.11" r="0.9" fill="#b0aaaa"/>
<circle cx="608.37" cy="689.11" r="0.9" fill="#a6b8bb"/>
<circle cx="634.90" cy="689.11" r="1.4" fill="#ce9a96"/>
<circle cx="661.43" cy="689.11" r="1.4" fill="#8cbec1"/>
</g>
<path d="M88.5 62.6V696.2H677.6" fill="none" stroke="#1b1b1b" stroke-width="1.1"/>
<path d="M85 70.05H88.5M85 81.95H88.5M85 93.86H88.5M85 105.76H88.5M85 117.67H88.5M85 129.57H88.5M85 141.48H88.5M85 153.38H88.5M85 165.29H88.5M85 177.19H88.5M85 189.10H88.5M85 201.00H88.5M85 212.91H88.5M85 224.81H88.5M85 236.72H88.5M85 248.62H88.5M85 260.53H88.5M85 272.44H88.5M85 284.34H88.5M85 296.25H88.5M85 308.15H88.5M85 320.06H88.5M85 331.96H88.5M85 343.87H88.5M85 355.77H88.5M85 367.68H88.5M85 379.58H88.5M85 391.49H88.5M85 403.39H88.5M85 415.30H88.5M85 427.20H88.5M85 439.11H88.5M85 451.01H88.5M85 462.91H88.5M85 474.82H88.5M85 486.72H88.5M85 498.63H88.5M85 510.53H88.5M85 522.44H88.5M85 534.34H88.5M85 546.25H88.5M85 558.15H88.5M85 570.06H88.5M85 581.96H88.5M85 593.87H88.5M85 605.77H88.5M85 617.68H88.5M85 629.58H88.5M85 641.49H88.5M85 653.39H88.5M85 665.30H88.5M85 677.20H88.5M85 689.11H88.5M104.30 696.2V699.6M130.83 696.2V699.6M157.36 696.2V699.6M183.89 696.2V699.6M210.42 696.2V699.6M236.95 696.2V699.6M263.48 696.2V699.6M290.01 696.2V699.6M316.54 696.2V699.6M343.07 696.2V699.6M369.60 696.2V699.6M396.13 696.2V699.6M422.66 696.2V699.6M449.19 696.2V699.6M475.72 696.2V699.6M502.25 696.2V699.6M528.78 696.2V699.6M555.31 696.2V699.6M581.84 696.2V699.6M608.37 696.2V699.6M634.90 696.2V699.6M661.43 696.2V699.6" stroke="#222" stroke-width="1.2"/>
<g font-family="Liberation Sans, Arial, sans-serif" font-size="10.2" fill="#222" text-anchor="end">
<text transform="translate(82.3 73.85) scale(0.99 1)">fog</text>
<text transform="translate(82.3 85.75) scale(0.99 1)">wake</text>
<text transform="translate(82.3 97.66) scale(0.99 1)">olf186-M</text>
<text transform="translate(82.3 109.56) scale(0.99 1)">LanB1</text>
<text transform="translate(82.3 121.47) scale(0.99 1)">CG32982</text>
<text transform="translate(82.3 133.38) scale(0.99 1)">CG34007</text>
<text transform="translate(82.3 145.28) scale(0.99 1)">jeb</text>
<text transform="translate(82.3 157.19) scale(0.99 1)">fne</text>
<text transform="translate(82.3 169.09) scale(0.99 1)">CG14374</text>
<text transform="translate(82.3 181.00) scale(0.99 1)">CG14377</text>
<text transform="translate(82.3 192.90) scale(0.99 1)">CG13135</text>
<text transform="translate(82.3 204.81) scale(0.99 1)">Gbs-70E</text>
<text transform="translate(82.3 216.71) scale(0.99 1)">CG33639</text>
<text transform="translate(82.3 228.62) scale(0.99 1)">CG11340</text>
<text transform="translate(82.3 240.52) scale(0.99 1)">CG30340</text>
<text transform="translate(82.3 252.43) scale(0.99 1)">CG42541</text>
<text transform="translate(82.3 264.33) scale(0.99 1)">CG14662</text>
<text transform="translate(82.3 276.24) scale(0.99 1)">dmGlut</text>
<text transform="translate(82.3 288.14) scale(0.99 1)">CG8774</text>
<text transform="translate(82.3 300.05) scale(0.99 1)">CG9500</text>
<text transform="translate(82.3 311.95) scale(0.99 1)">hbn</text>
<text transform="translate(82.3 323.86) scale(0.99 1)">CG2930</text>
<text transform="translate(82.3 335.76) scale(0.99 1)">AstA</text>
<text transform="translate(82.3 347.67) scale(0.99 1)">Mal-A3</text>
<text transform="translate(82.3 359.57) scale(0.99 1)">Ance</text>
<text transform="translate(82.3 371.48) scale(0.99 1)">Nha1</text>
<text transform="translate(82.3 383.38) scale(0.99 1)">Npc2d</text>
<text transform="translate(82.3 395.29) scale(0.99 1)">CG13229</text>
<text transform="translate(82.3 407.19) scale(0.99 1)">GstT4</text>
<text transform="translate(82.3 419.10) scale(0.99 1)">CG4288</text>
<text transform="translate(82.3 431.00) scale(0.99 1)">Tsp66E</text>
<text transform="translate(82.3 442.91) scale(0.99 1)">SP1029</text>
<text transform="translate(82.3 454.81) scale(0.99 1)">Hsp70Bc</text>
<text transform="translate(82.3 466.71) scale(0.99 1)">Vha100-5</text>
<text transform="translate(82.3 478.62) scale(0.99 1)">CG9826</text>
<text transform="translate(82.3 490.52) scale(0.99 1)">CG9914</text>
<text transform="translate(82.3 502.43) scale(0.99 1)">CG7191</text>
<text transform="translate(82.3 514.33) scale(0.99 1)">CG3270</text>
<text transform="translate(82.3 526.24) scale(0.99 1)">hth</text>
<text transform="translate(82.3 538.14) scale(0.99 1)">CG10621</text>
<text transform="translate(82.3 550.05) scale(0.99 1)">AstC</text>
<text transform="translate(82.3 561.95) scale(0.99 1)">CG9312</text>
<text transform="translate(82.3 573.86) scale(0.99 1)">Fer1</text>
<text transform="translate(82.3 585.76) scale(0.99 1)">CG44325</text>
<text transform="translate(82.3 597.67) scale(0.99 1)">Scp2</text>
<text transform="translate(82.3 609.57) scale(0.99 1)">Hk</text>
<text transform="translate(82.3 621.48) scale(0.99 1)">CG15312</text>
<text transform="translate(82.3 633.38) scale(0.99 1)">Swim</text>
<text transform="translate(82.3 645.29) scale(0.99 1)">CG42394</text>
<text transform="translate(82.3 657.19) scale(0.99 1)">CG43207</text>
<text transform="translate(82.3 669.10) scale(0.99 1)">dpr</text>
<text transform="translate(82.3 681.00) scale(0.99 1)">exex</text>
<text transform="translate(82.3 692.91) scale(0.99 1)">NPFR</text>
</g>
<g font-family="Liberation Sans, Arial, sans-serif" font-size="10.2" fill="#222" text-anchor="end">
<text transform="translate(108.50 711.5) scale(1.064 1) rotate(-45)">0_Group_1</text>
<text transform="translate(135.03 711.5) scale(1.064 1) rotate(-45)">0_Group_2</text>
<text transform="translate(161.56 711.5) scale(1.064 1) rotate(-45)">1_Group_1</text>
<text transform="translate(188.09 711.5) scale(1.064 1) rotate(-45)">1_Group_2</text>
<text transform="translate(214.62 711.5) scale(1.064 1) rotate(-45)">2_Group_1</text>
<text transform="translate(241.15 711.5) scale(1.064 1) rotate(-45)">2_Group_2</text>
<text transform="translate(267.68 711.5) scale(1.064 1) rotate(-45)">3_Group_1</text>
<text transform="translate(294.21 711.5) scale(1.064 1) rotate(-45)">3_Group_2</text>
<text transform="translate(320.74 711.5) scale(1.064 1) rotate(-45)">4_Group_1</text>
<text transform="translate(347.27 711.5) scale(1.064 1) rotate(-45)">4_Group_2</text>
<text transform="translate(373.80 711.5) scale(1.064 1) rotate(-45)">5_Group_1</text>
<text transform="translate(400.33 711.5) scale(1.064 1) rotate(-45)">5_Group_2</text>
<text transform="translate(426.86 711.5) scale(1.064 1) rotate(-45)">6_Group_1</text>
<text transform="translate(453.39 711.5) scale(1.064 1) rotate(-45)">6_Group_2</text>
<text transform="translate(479.92 711.5) scale(1.064 1) rotate(-45)">7_Group_1</text>
<text transform="translate(506.45 711.5) scale(1.064 1) rotate(-45)">7_Group_2</text>
<text transform="translate(532.98 711.5) scale(1.064 1) rotate(-45)">8_Group_1</text>
<text transform="translate(559.51 711.5) scale(1.064 1) rotate(-45)">8_Group_2</text>
<text transform="translate(586.04 711.5) scale(1.064 1) rotate(-45)">9_Group_1</text>
<text transform="translate(612.57 711.5) scale(1.064 1) rotate(-45)">9_Group_2</text>
<text transform="translate(639.10 711.5) scale(1.064 1) rotate(-45)">10_Group_1</text>
<text transform="translate(665.63 711.5) scale(1.064 1) rotate(-45)">10_Group_2</text>
</g>
<text transform="translate(382.8 767) scale(1.03 1)" font-family="Liberation Sans, Arial, sans-serif" font-size="13.8" fill="#262626" text-anchor="middle">Split Identity</text>
<text transform="translate(32.2 379.2) rotate(-90)" font-family="Liberation Sans, Arial, sans-serif" font-size="13.9" fill="#262626" text-anchor="middle">Features</text>
<text transform="translate(692.5 342.8) scale(1.025 1)" font-family="Liberation Sans, Arial, sans-serif" font-size="13.6" fill="#1a1a1a">Percent Expressed</text>
<circle cx="699.3" cy="359.1" r="0.6" fill="#161616"/>
<text transform="translate(714 363.0) scale(1.08 1)" font-family="Liberation Sans, Arial, sans-serif" font-size="11" fill="#1a1a1a">0</text>
<circle cx="699.3" cy="374.6" r="2.1" fill="#161616"/>
<text transform="translate(714 378.5) scale(1.08 1)" font-family="Liberation Sans, Arial, sans-serif" font-size="11" fill="#1a1a1a">25</text>
<circle cx="699.3" cy="390.0" r="3.6" fill="#161616"/>
<text transform="translate(714 393.9) scale(1.08 1)" font-family="Liberation Sans, Arial, sans-serif" font-size="11" fill="#1a1a1a">50</text>
<circle cx="699.3" cy="405.1" r="4.8" fill="#161616"/>
<text transform="translate(714 409.0) scale(1.08 1)" font-family="Liberation Sans, Arial, sans-serif" font-size="11" fill="#1a1a1a">75</text>
<circle cx="699.3" cy="420.3" r="6.2" fill="#161616"/>
<text transform="translate(714 424.2) scale(1.08 1)" font-family="Liberation Sans, Arial, sans-serif" font-size="11" fill="#1a1a1a">100</text>
</svg>
</body></html>
